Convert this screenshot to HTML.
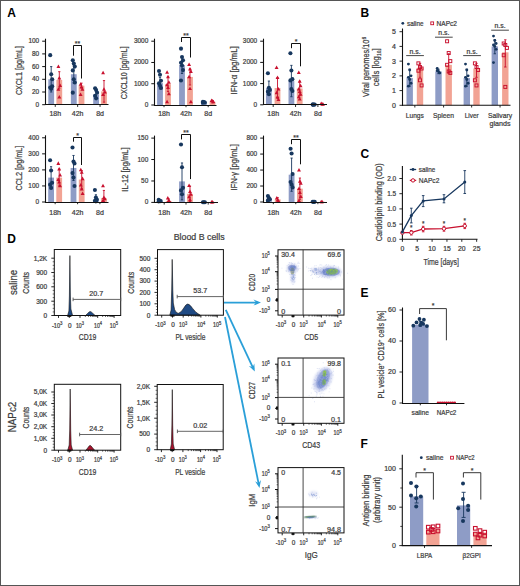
<!DOCTYPE html>
<html><head><meta charset="utf-8"><style>
html,body{margin:0;padding:0;background:#fff;}
svg{display:block;font-family:"Liberation Sans", sans-serif;}
</style></head><body>
<svg width="520" height="586" viewBox="0 0 520 586">
<defs>
<filter id="b1" x="-50%" y="-50%" width="200%" height="200%"><feGaussianBlur stdDeviation="0.6"/></filter>
<filter id="b2" x="-50%" y="-50%" width="200%" height="200%"><feGaussianBlur stdDeviation="1.2"/></filter>
<filter id="b3" x="-50%" y="-50%" width="200%" height="200%"><feGaussianBlur stdDeviation="2"/></filter>
</defs>
<rect width="520" height="586" fill="#fff"/>
<rect x="48.30" y="79.30" width="5.80" height="25.40" fill="#8e9cc6" />
<rect x="56.40" y="79.94" width="5.80" height="24.77" fill="#f2a394" />
<rect x="70.90" y="74.22" width="5.80" height="30.48" fill="#8e9cc6" />
<rect x="78.60" y="85.65" width="5.80" height="19.05" fill="#f2a394" />
<rect x="93.20" y="94.54" width="5.80" height="10.16" fill="#8e9cc6" />
<rect x="101.10" y="91.37" width="5.80" height="13.33" fill="#f2a394" />
<line x1="51.20" y1="92.00" x2="51.20" y2="66.60" stroke="#17375e" stroke-width="0.9" />
<line x1="50.10" y1="66.60" x2="52.30" y2="66.60" stroke="#17375e" stroke-width="0.9" />
<line x1="50.10" y1="92.00" x2="52.30" y2="92.00" stroke="#17375e" stroke-width="0.9" />
<line x1="59.30" y1="88.19" x2="59.30" y2="71.68" stroke="#c8102e" stroke-width="0.9" />
<line x1="58.20" y1="71.68" x2="60.40" y2="71.68" stroke="#c8102e" stroke-width="0.9" />
<line x1="58.20" y1="88.19" x2="60.40" y2="88.19" stroke="#c8102e" stroke-width="0.9" />
<circle cx="50.20" cy="55.17" r="2.05" fill="#17375e"/>
<circle cx="51.20" cy="74.22" r="2.05" fill="#17375e"/>
<circle cx="52.20" cy="86.28" r="2.05" fill="#17375e"/>
<circle cx="50.20" cy="87.56" r="2.05" fill="#17375e"/>
<circle cx="51.20" cy="88.83" r="2.05" fill="#17375e"/>
<circle cx="52.20" cy="79.30" r="2.05" fill="#17375e"/>
<path d="M58.40 64.49L60.35 68.00L56.45 68.00Z" fill="#c8102e"/>
<path d="M59.30 75.92L61.25 79.43L57.35 79.43Z" fill="#c8102e"/>
<path d="M60.20 83.54L62.15 87.05L58.25 87.05Z" fill="#c8102e"/>
<path d="M58.40 87.35L60.35 90.86L56.45 90.86Z" fill="#c8102e"/>
<path d="M59.30 94.97L61.25 98.48L57.35 98.48Z" fill="#c8102e"/>
<line x1="73.80" y1="83.11" x2="73.80" y2="65.33" stroke="#17375e" stroke-width="0.9" />
<line x1="72.70" y1="65.33" x2="74.90" y2="65.33" stroke="#17375e" stroke-width="0.9" />
<line x1="72.70" y1="83.11" x2="74.90" y2="83.11" stroke="#17375e" stroke-width="0.9" />
<line x1="81.50" y1="88.19" x2="81.50" y2="83.11" stroke="#c8102e" stroke-width="0.9" />
<line x1="80.40" y1="83.11" x2="82.60" y2="83.11" stroke="#c8102e" stroke-width="0.9" />
<line x1="80.40" y1="88.19" x2="82.60" y2="88.19" stroke="#c8102e" stroke-width="0.9" />
<circle cx="72.80" cy="60.25" r="2.05" fill="#17375e"/>
<circle cx="73.80" cy="63.43" r="2.05" fill="#17375e"/>
<circle cx="74.80" cy="66.60" r="2.05" fill="#17375e"/>
<circle cx="72.80" cy="70.41" r="2.05" fill="#17375e"/>
<circle cx="73.80" cy="79.30" r="2.05" fill="#17375e"/>
<circle cx="74.80" cy="82.47" r="2.05" fill="#17375e"/>
<circle cx="72.80" cy="92.64" r="2.05" fill="#17375e"/>
<path d="M80.60 82.27L82.55 85.78L78.65 85.78Z" fill="#c8102e"/>
<path d="M81.50 84.81L83.45 88.32L79.55 88.32Z" fill="#c8102e"/>
<path d="M82.40 87.35L84.35 90.86L80.45 90.86Z" fill="#c8102e"/>
<path d="M80.60 92.43L82.55 95.94L78.65 95.94Z" fill="#c8102e"/>
<line x1="96.10" y1="98.35" x2="96.10" y2="90.73" stroke="#17375e" stroke-width="0.9" />
<line x1="95.00" y1="90.73" x2="97.20" y2="90.73" stroke="#17375e" stroke-width="0.9" />
<line x1="95.00" y1="98.35" x2="97.20" y2="98.35" stroke="#17375e" stroke-width="0.9" />
<line x1="104.00" y1="102.16" x2="104.00" y2="80.57" stroke="#c8102e" stroke-width="0.9" />
<line x1="102.90" y1="80.57" x2="105.10" y2="80.57" stroke="#c8102e" stroke-width="0.9" />
<line x1="102.90" y1="102.16" x2="105.10" y2="102.16" stroke="#c8102e" stroke-width="0.9" />
<circle cx="95.10" cy="88.19" r="2.05" fill="#17375e"/>
<circle cx="96.10" cy="90.09" r="2.05" fill="#17375e"/>
<circle cx="97.10" cy="92.64" r="2.05" fill="#17375e"/>
<circle cx="95.10" cy="95.81" r="2.05" fill="#17375e"/>
<circle cx="96.10" cy="98.35" r="2.05" fill="#17375e"/>
<path d="M103.10 70.84L105.05 74.35L101.15 74.35Z" fill="#c8102e"/>
<path d="M104.00 87.35L105.95 90.86L102.05 90.86Z" fill="#c8102e"/>
<path d="M104.90 89.89L106.85 93.40L102.95 93.40Z" fill="#c8102e"/>
<path d="M103.10 92.43L105.05 95.94L101.15 95.94Z" fill="#c8102e"/>
<line x1="45.50" y1="38.70" x2="45.50" y2="105.00" stroke="#111" stroke-width="1.1" />
<line x1="45.00" y1="104.50" x2="108.50" y2="104.50" stroke="#111" stroke-width="1.1" />
<line x1="42.20" y1="104.70" x2="45.40" y2="104.70" stroke="#111" stroke-width="1.0" />
<text x="39.20" y="106.70" font-size="7.0" text-anchor="end" fill="#3c3c3c" stroke="#3c3c3c" stroke-width="0.22" textLength="3.6" lengthAdjust="spacingAndGlyphs">0</text>
<line x1="42.20" y1="92.00" x2="45.40" y2="92.00" stroke="#111" stroke-width="1.0" />
<text x="39.20" y="94.00" font-size="7.0" text-anchor="end" fill="#3c3c3c" stroke="#3c3c3c" stroke-width="0.22" textLength="7.2" lengthAdjust="spacingAndGlyphs">20</text>
<line x1="42.20" y1="79.30" x2="45.40" y2="79.30" stroke="#111" stroke-width="1.0" />
<text x="39.20" y="81.30" font-size="7.0" text-anchor="end" fill="#3c3c3c" stroke="#3c3c3c" stroke-width="0.22" textLength="7.2" lengthAdjust="spacingAndGlyphs">40</text>
<line x1="42.20" y1="66.60" x2="45.40" y2="66.60" stroke="#111" stroke-width="1.0" />
<text x="39.20" y="68.60" font-size="7.0" text-anchor="end" fill="#3c3c3c" stroke="#3c3c3c" stroke-width="0.22" textLength="7.2" lengthAdjust="spacingAndGlyphs">60</text>
<line x1="42.20" y1="53.90" x2="45.40" y2="53.90" stroke="#111" stroke-width="1.0" />
<text x="39.20" y="55.90" font-size="7.0" text-anchor="end" fill="#3c3c3c" stroke="#3c3c3c" stroke-width="0.22" textLength="7.2" lengthAdjust="spacingAndGlyphs">80</text>
<line x1="42.20" y1="41.20" x2="45.40" y2="41.20" stroke="#111" stroke-width="1.0" />
<text x="39.20" y="43.20" font-size="7.0" text-anchor="end" fill="#3c3c3c" stroke="#3c3c3c" stroke-width="0.22" textLength="10.8" lengthAdjust="spacingAndGlyphs">100</text>
<line x1="55.25" y1="104.70" x2="55.25" y2="106.90" stroke="#111" stroke-width="0.9" />
<text x="55.25" y="116.20" font-size="7.2" text-anchor="middle" fill="#3c3c3c" stroke="#3c3c3c" stroke-width="0.22" textLength="11.7" lengthAdjust="spacingAndGlyphs">18h</text>
<line x1="77.65" y1="104.70" x2="77.65" y2="106.90" stroke="#111" stroke-width="0.9" />
<text x="77.65" y="116.20" font-size="7.2" text-anchor="middle" fill="#3c3c3c" stroke="#3c3c3c" stroke-width="0.22" textLength="11.7" lengthAdjust="spacingAndGlyphs">42h</text>
<line x1="100.05" y1="104.70" x2="100.05" y2="106.90" stroke="#111" stroke-width="0.9" />
<text x="100.05" y="116.20" font-size="7.2" text-anchor="middle" fill="#3c3c3c" stroke="#3c3c3c" stroke-width="0.22" textLength="7.8" lengthAdjust="spacingAndGlyphs">8d</text>
<path d="M73.50 55.70V45.50H81.50V78.50" fill="none" stroke="#111" stroke-width="1.0"/>
<text x="77.50" y="46.10" font-size="7.0" text-anchor="middle" fill="#3c3c3c" stroke="#3c3c3c" stroke-width="0.22">**</text>
<text x="22.00" y="70.60" font-size="8.4" text-anchor="middle" fill="#3c3c3c" stroke="#3c3c3c" stroke-width="0.22" textLength="49" lengthAdjust="spacingAndGlyphs" transform="rotate(-90 22.00 70.60)">CXCL1 [pg/mL]</text>
<rect x="157.10" y="83.10" width="5.80" height="21.90" fill="#8e9cc6" />
<rect x="165.10" y="84.16" width="5.80" height="20.84" fill="#f2a394" />
<rect x="179.10" y="65.02" width="5.80" height="39.98" fill="#8e9cc6" />
<rect x="187.10" y="76.93" width="5.80" height="28.07" fill="#f2a394" />
<rect x="201.00" y="102.45" width="5.80" height="2.55" fill="#8e9cc6" />
<rect x="209.60" y="101.81" width="5.80" height="3.19" fill="#f2a394" />
<line x1="160.00" y1="88.84" x2="160.00" y2="77.35" stroke="#17375e" stroke-width="0.9" />
<line x1="158.90" y1="77.35" x2="161.10" y2="77.35" stroke="#17375e" stroke-width="0.9" />
<line x1="158.90" y1="88.84" x2="161.10" y2="88.84" stroke="#17375e" stroke-width="0.9" />
<line x1="168.00" y1="91.60" x2="168.00" y2="76.72" stroke="#c8102e" stroke-width="0.9" />
<line x1="166.90" y1="76.72" x2="169.10" y2="76.72" stroke="#c8102e" stroke-width="0.9" />
<line x1="166.90" y1="91.60" x2="169.10" y2="91.60" stroke="#c8102e" stroke-width="0.9" />
<circle cx="159.00" cy="70.97" r="2.05" fill="#17375e"/>
<circle cx="160.00" cy="74.80" r="2.05" fill="#17375e"/>
<circle cx="161.00" cy="80.76" r="2.05" fill="#17375e"/>
<circle cx="159.00" cy="83.31" r="2.05" fill="#17375e"/>
<circle cx="160.00" cy="85.86" r="2.05" fill="#17375e"/>
<circle cx="161.00" cy="87.99" r="2.05" fill="#17375e"/>
<path d="M167.10 70.36L169.05 73.87L165.15 73.87Z" fill="#c8102e"/>
<path d="M168.00 74.82L169.95 78.33L166.05 78.33Z" fill="#c8102e"/>
<path d="M168.90 80.14L170.85 83.65L166.95 83.65Z" fill="#c8102e"/>
<path d="M167.10 82.69L169.05 86.20L165.15 86.20Z" fill="#c8102e"/>
<path d="M168.00 85.46L169.95 88.97L166.05 88.97Z" fill="#c8102e"/>
<path d="M168.90 91.84L170.85 95.35L166.95 95.35Z" fill="#c8102e"/>
<path d="M167.10 99.70L169.05 103.21L165.15 103.21Z" fill="#c8102e"/>
<line x1="182.00" y1="73.53" x2="182.00" y2="56.51" stroke="#17375e" stroke-width="0.9" />
<line x1="180.90" y1="56.51" x2="183.10" y2="56.51" stroke="#17375e" stroke-width="0.9" />
<line x1="180.90" y1="73.53" x2="183.10" y2="73.53" stroke="#17375e" stroke-width="0.9" />
<line x1="190.00" y1="85.01" x2="190.00" y2="68.85" stroke="#c8102e" stroke-width="0.9" />
<line x1="188.90" y1="68.85" x2="191.10" y2="68.85" stroke="#c8102e" stroke-width="0.9" />
<line x1="188.90" y1="85.01" x2="191.10" y2="85.01" stroke="#c8102e" stroke-width="0.9" />
<circle cx="181.00" cy="48.64" r="2.05" fill="#17375e"/>
<circle cx="182.00" cy="56.94" r="2.05" fill="#17375e"/>
<circle cx="183.00" cy="60.34" r="2.05" fill="#17375e"/>
<circle cx="181.00" cy="62.68" r="2.05" fill="#17375e"/>
<circle cx="182.00" cy="65.44" r="2.05" fill="#17375e"/>
<circle cx="183.00" cy="70.12" r="2.05" fill="#17375e"/>
<circle cx="181.00" cy="80.54" r="2.05" fill="#17375e"/>
<path d="M189.10 62.49L191.05 66.00L187.15 66.00Z" fill="#c8102e"/>
<path d="M190.00 66.95L191.95 70.46L188.05 70.46Z" fill="#c8102e"/>
<path d="M190.90 69.51L192.85 73.02L188.95 73.02Z" fill="#c8102e"/>
<path d="M189.10 74.82L191.05 78.33L187.15 78.33Z" fill="#c8102e"/>
<path d="M190.00 86.52L191.95 90.03L188.05 90.03Z" fill="#c8102e"/>
<path d="M190.90 99.70L192.85 103.21L188.95 103.21Z" fill="#c8102e"/>
<line x1="203.90" y1="103.30" x2="203.90" y2="101.60" stroke="#17375e" stroke-width="0.9" />
<line x1="202.80" y1="101.60" x2="205.00" y2="101.60" stroke="#17375e" stroke-width="0.9" />
<line x1="202.80" y1="103.30" x2="205.00" y2="103.30" stroke="#17375e" stroke-width="0.9" />
<line x1="212.50" y1="102.87" x2="212.50" y2="100.75" stroke="#c8102e" stroke-width="0.9" />
<line x1="211.40" y1="100.75" x2="213.60" y2="100.75" stroke="#c8102e" stroke-width="0.9" />
<line x1="211.40" y1="102.87" x2="213.60" y2="102.87" stroke="#c8102e" stroke-width="0.9" />
<circle cx="202.90" cy="101.81" r="2.05" fill="#17375e"/>
<circle cx="203.90" cy="102.02" r="2.05" fill="#17375e"/>
<circle cx="204.90" cy="102.45" r="2.05" fill="#17375e"/>
<circle cx="202.90" cy="102.66" r="2.05" fill="#17375e"/>
<path d="M211.60 98.43L213.55 101.94L209.65 101.94Z" fill="#c8102e"/>
<path d="M212.50 99.07L214.45 102.58L210.55 102.58Z" fill="#c8102e"/>
<path d="M213.40 99.70L215.35 103.21L211.45 103.21Z" fill="#c8102e"/>
<line x1="154.50" y1="38.70" x2="154.50" y2="106.00" stroke="#111" stroke-width="1.1" />
<line x1="154.00" y1="105.50" x2="216.50" y2="105.50" stroke="#111" stroke-width="1.1" />
<line x1="151.30" y1="105.00" x2="154.50" y2="105.00" stroke="#111" stroke-width="1.0" />
<text x="148.30" y="107.00" font-size="7.0" text-anchor="end" fill="#3c3c3c" stroke="#3c3c3c" stroke-width="0.22" textLength="3.6" lengthAdjust="spacingAndGlyphs">0</text>
<line x1="151.30" y1="83.73" x2="154.50" y2="83.73" stroke="#111" stroke-width="1.0" />
<text x="148.30" y="85.73" font-size="7.0" text-anchor="end" fill="#3c3c3c" stroke="#3c3c3c" stroke-width="0.22" textLength="14.4" lengthAdjust="spacingAndGlyphs">1000</text>
<line x1="151.30" y1="62.47" x2="154.50" y2="62.47" stroke="#111" stroke-width="1.0" />
<text x="148.30" y="64.47" font-size="7.0" text-anchor="end" fill="#3c3c3c" stroke="#3c3c3c" stroke-width="0.22" textLength="14.4" lengthAdjust="spacingAndGlyphs">2000</text>
<line x1="151.30" y1="41.20" x2="154.50" y2="41.20" stroke="#111" stroke-width="1.0" />
<text x="148.30" y="43.20" font-size="7.0" text-anchor="end" fill="#3c3c3c" stroke="#3c3c3c" stroke-width="0.22" textLength="14.4" lengthAdjust="spacingAndGlyphs">3000</text>
<line x1="164.00" y1="105.00" x2="164.00" y2="107.20" stroke="#111" stroke-width="0.9" />
<text x="164.00" y="116.20" font-size="7.2" text-anchor="middle" fill="#3c3c3c" stroke="#3c3c3c" stroke-width="0.22" textLength="11.7" lengthAdjust="spacingAndGlyphs">18h</text>
<line x1="186.00" y1="105.00" x2="186.00" y2="107.20" stroke="#111" stroke-width="0.9" />
<text x="186.00" y="116.20" font-size="7.2" text-anchor="middle" fill="#3c3c3c" stroke="#3c3c3c" stroke-width="0.22" textLength="11.7" lengthAdjust="spacingAndGlyphs">42h</text>
<line x1="208.20" y1="105.00" x2="208.20" y2="107.20" stroke="#111" stroke-width="0.9" />
<text x="208.20" y="116.20" font-size="7.2" text-anchor="middle" fill="#3c3c3c" stroke="#3c3c3c" stroke-width="0.22" textLength="7.8" lengthAdjust="spacingAndGlyphs">8d</text>
<path d="M181.50 42.00V37.50H190.50V57.50" fill="none" stroke="#111" stroke-width="1.0"/>
<text x="186.00" y="38.10" font-size="7.0" text-anchor="middle" fill="#3c3c3c" stroke="#3c3c3c" stroke-width="0.22">**</text>
<text x="127.00" y="72.80" font-size="8.4" text-anchor="middle" fill="#3c3c3c" stroke="#3c3c3c" stroke-width="0.22" textLength="53" lengthAdjust="spacingAndGlyphs" transform="rotate(-90 127.00 72.80)">CXCL10 [pg/mL]</text>
<rect x="266.00" y="87.84" width="5.80" height="16.96" fill="#8e9cc6" />
<rect x="274.60" y="88.05" width="5.80" height="16.75" fill="#f2a394" />
<rect x="288.50" y="81.06" width="5.80" height="23.74" fill="#8e9cc6" />
<rect x="296.80" y="88.48" width="5.80" height="16.32" fill="#f2a394" />
<rect x="310.80" y="104.38" width="5.80" height="0.42" fill="#8e9cc6" />
<rect x="319.20" y="104.16" width="5.80" height="0.64" fill="#f2a394" />
<line x1="268.90" y1="94.62" x2="268.90" y2="81.06" stroke="#17375e" stroke-width="0.9" />
<line x1="267.80" y1="81.06" x2="270.00" y2="81.06" stroke="#17375e" stroke-width="0.9" />
<line x1="267.80" y1="94.62" x2="270.00" y2="94.62" stroke="#17375e" stroke-width="0.9" />
<line x1="277.50" y1="98.44" x2="277.50" y2="77.66" stroke="#c8102e" stroke-width="0.9" />
<line x1="276.40" y1="77.66" x2="278.60" y2="77.66" stroke="#c8102e" stroke-width="0.9" />
<line x1="276.40" y1="98.44" x2="278.60" y2="98.44" stroke="#c8102e" stroke-width="0.9" />
<circle cx="267.90" cy="73.21" r="2.05" fill="#17375e"/>
<circle cx="268.90" cy="87.84" r="2.05" fill="#17375e"/>
<circle cx="269.90" cy="89.96" r="2.05" fill="#17375e"/>
<circle cx="267.90" cy="91.66" r="2.05" fill="#17375e"/>
<circle cx="268.90" cy="94.20" r="2.05" fill="#17375e"/>
<path d="M276.60 65.59L278.55 69.10L274.65 69.10Z" fill="#c8102e"/>
<path d="M277.50 75.56L279.45 79.07L275.55 79.07Z" fill="#c8102e"/>
<path d="M278.40 87.01L280.35 90.52L276.45 90.52Z" fill="#c8102e"/>
<path d="M276.60 90.82L278.55 94.33L274.65 94.33Z" fill="#c8102e"/>
<path d="M277.50 94.85L279.45 98.36L275.55 98.36Z" fill="#c8102e"/>
<path d="M278.40 97.39L280.35 100.90L276.45 100.90Z" fill="#c8102e"/>
<line x1="291.40" y1="96.74" x2="291.40" y2="65.37" stroke="#17375e" stroke-width="0.9" />
<line x1="290.30" y1="65.37" x2="292.50" y2="65.37" stroke="#17375e" stroke-width="0.9" />
<line x1="290.30" y1="96.74" x2="292.50" y2="96.74" stroke="#17375e" stroke-width="0.9" />
<line x1="299.70" y1="95.68" x2="299.70" y2="81.27" stroke="#c8102e" stroke-width="0.9" />
<line x1="298.60" y1="81.27" x2="300.80" y2="81.27" stroke="#c8102e" stroke-width="0.9" />
<line x1="298.60" y1="95.68" x2="300.80" y2="95.68" stroke="#c8102e" stroke-width="0.9" />
<circle cx="290.40" cy="53.28" r="2.05" fill="#17375e"/>
<circle cx="291.40" cy="70.46" r="2.05" fill="#17375e"/>
<circle cx="292.40" cy="79.15" r="2.05" fill="#17375e"/>
<circle cx="290.40" cy="80.42" r="2.05" fill="#17375e"/>
<circle cx="291.40" cy="89.11" r="2.05" fill="#17375e"/>
<circle cx="292.40" cy="91.02" r="2.05" fill="#17375e"/>
<path d="M298.80 70.47L300.75 73.98L296.85 73.98Z" fill="#c8102e"/>
<path d="M299.70 79.16L301.65 82.67L297.75 82.67Z" fill="#c8102e"/>
<path d="M300.60 83.83L302.55 87.34L298.65 87.34Z" fill="#c8102e"/>
<path d="M298.80 87.01L300.75 90.52L296.85 90.52Z" fill="#c8102e"/>
<path d="M299.70 89.55L301.65 93.06L297.75 93.06Z" fill="#c8102e"/>
<path d="M300.60 92.31L302.55 95.82L298.65 95.82Z" fill="#c8102e"/>
<path d="M298.80 94.85L300.75 98.36L296.85 98.36Z" fill="#c8102e"/>
<path d="M299.70 96.97L301.65 100.48L297.75 100.48Z" fill="#c8102e"/>
<line x1="313.70" y1="104.59" x2="313.70" y2="104.16" stroke="#17375e" stroke-width="0.9" />
<line x1="312.60" y1="104.16" x2="314.80" y2="104.16" stroke="#17375e" stroke-width="0.9" />
<line x1="312.60" y1="104.59" x2="314.80" y2="104.59" stroke="#17375e" stroke-width="0.9" />
<line x1="322.10" y1="104.80" x2="322.10" y2="103.53" stroke="#c8102e" stroke-width="0.9" />
<line x1="321.00" y1="103.53" x2="323.20" y2="103.53" stroke="#c8102e" stroke-width="0.9" />
<line x1="321.00" y1="104.80" x2="323.20" y2="104.80" stroke="#c8102e" stroke-width="0.9" />
<circle cx="312.70" cy="104.59" r="2.05" fill="#17375e"/>
<circle cx="313.70" cy="104.59" r="2.05" fill="#17375e"/>
<circle cx="314.70" cy="104.59" r="2.05" fill="#17375e"/>
<circle cx="312.70" cy="104.59" r="2.05" fill="#17375e"/>
<path d="M321.20 101.42L323.15 104.93L319.25 104.93Z" fill="#c8102e"/>
<path d="M322.10 102.06L324.05 105.57L320.15 105.57Z" fill="#c8102e"/>
<path d="M323.00 102.27L324.95 105.78L321.05 105.78Z" fill="#c8102e"/>
<line x1="263.50" y1="38.70" x2="263.50" y2="105.00" stroke="#111" stroke-width="1.1" />
<line x1="263.00" y1="104.50" x2="327.00" y2="104.50" stroke="#111" stroke-width="1.1" />
<line x1="260.20" y1="104.80" x2="263.40" y2="104.80" stroke="#111" stroke-width="1.0" />
<text x="257.20" y="106.80" font-size="7.0" text-anchor="end" fill="#3c3c3c" stroke="#3c3c3c" stroke-width="0.22" textLength="3.6" lengthAdjust="spacingAndGlyphs">0</text>
<line x1="260.20" y1="83.60" x2="263.40" y2="83.60" stroke="#111" stroke-width="1.0" />
<text x="257.20" y="85.60" font-size="7.0" text-anchor="end" fill="#3c3c3c" stroke="#3c3c3c" stroke-width="0.22" textLength="14.4" lengthAdjust="spacingAndGlyphs">1000</text>
<line x1="260.20" y1="62.40" x2="263.40" y2="62.40" stroke="#111" stroke-width="1.0" />
<text x="257.20" y="64.40" font-size="7.0" text-anchor="end" fill="#3c3c3c" stroke="#3c3c3c" stroke-width="0.22" textLength="14.4" lengthAdjust="spacingAndGlyphs">2000</text>
<line x1="260.20" y1="41.20" x2="263.40" y2="41.20" stroke="#111" stroke-width="1.0" />
<text x="257.20" y="43.20" font-size="7.0" text-anchor="end" fill="#3c3c3c" stroke="#3c3c3c" stroke-width="0.22" textLength="14.4" lengthAdjust="spacingAndGlyphs">3000</text>
<line x1="273.20" y1="104.80" x2="273.20" y2="107.00" stroke="#111" stroke-width="0.9" />
<text x="273.20" y="116.20" font-size="7.2" text-anchor="middle" fill="#3c3c3c" stroke="#3c3c3c" stroke-width="0.22" textLength="11.7" lengthAdjust="spacingAndGlyphs">18h</text>
<line x1="295.55" y1="104.80" x2="295.55" y2="107.00" stroke="#111" stroke-width="0.9" />
<text x="295.55" y="116.20" font-size="7.2" text-anchor="middle" fill="#3c3c3c" stroke="#3c3c3c" stroke-width="0.22" textLength="11.7" lengthAdjust="spacingAndGlyphs">42h</text>
<line x1="317.90" y1="104.80" x2="317.90" y2="107.00" stroke="#111" stroke-width="0.9" />
<text x="317.90" y="116.20" font-size="7.2" text-anchor="middle" fill="#3c3c3c" stroke="#3c3c3c" stroke-width="0.22" textLength="7.8" lengthAdjust="spacingAndGlyphs">8d</text>
<path d="M291.50 48.20V43.50H300.50V66.30" fill="none" stroke="#111" stroke-width="1.0"/>
<text x="296.00" y="44.10" font-size="7.0" text-anchor="middle" fill="#3c3c3c" stroke="#3c3c3c" stroke-width="0.22">*</text>
<text x="237.00" y="70.40" font-size="8.4" text-anchor="middle" fill="#3c3c3c" stroke="#3c3c3c" stroke-width="0.22" textLength="48.3" lengthAdjust="spacingAndGlyphs" transform="rotate(-90 237.00 70.40)">IFN-α [pg/mL]</text>
<rect x="48.20" y="177.60" width="5.80" height="24.40" fill="#8e9cc6" />
<rect x="56.30" y="177.60" width="5.80" height="24.40" fill="#f2a394" />
<rect x="70.60" y="167.97" width="5.80" height="34.03" fill="#8e9cc6" />
<rect x="78.80" y="179.53" width="5.80" height="22.47" fill="#f2a394" />
<rect x="93.00" y="200.07" width="5.80" height="1.93" fill="#8e9cc6" />
<rect x="101.00" y="198.15" width="5.80" height="3.85" fill="#f2a394" />
<line x1="51.10" y1="188.52" x2="51.10" y2="166.69" stroke="#17375e" stroke-width="0.9" />
<line x1="50.00" y1="166.69" x2="52.20" y2="166.69" stroke="#17375e" stroke-width="0.9" />
<line x1="50.00" y1="188.52" x2="52.20" y2="188.52" stroke="#17375e" stroke-width="0.9" />
<line x1="59.20" y1="186.11" x2="59.20" y2="169.10" stroke="#c8102e" stroke-width="0.9" />
<line x1="58.10" y1="169.10" x2="60.30" y2="169.10" stroke="#c8102e" stroke-width="0.9" />
<line x1="58.10" y1="186.11" x2="60.30" y2="186.11" stroke="#c8102e" stroke-width="0.9" />
<circle cx="50.10" cy="160.27" r="2.05" fill="#17375e"/>
<circle cx="51.10" cy="170.54" r="2.05" fill="#17375e"/>
<circle cx="52.10" cy="182.74" r="2.05" fill="#17375e"/>
<circle cx="50.10" cy="184.67" r="2.05" fill="#17375e"/>
<circle cx="51.10" cy="187.88" r="2.05" fill="#17375e"/>
<path d="M58.30 161.37L60.25 164.88L56.35 164.88Z" fill="#c8102e"/>
<path d="M59.20 166.99L61.15 170.50L57.25 170.50Z" fill="#c8102e"/>
<path d="M60.10 172.93L62.05 176.44L58.15 176.44Z" fill="#c8102e"/>
<path d="M58.30 177.42L60.25 180.93L56.35 180.93Z" fill="#c8102e"/>
<path d="M59.20 179.99L61.15 183.50L57.25 183.50Z" fill="#c8102e"/>
<path d="M60.10 183.84L62.05 187.35L58.15 187.35Z" fill="#c8102e"/>
<line x1="73.50" y1="180.49" x2="73.50" y2="155.46" stroke="#17375e" stroke-width="0.9" />
<line x1="72.40" y1="155.46" x2="74.60" y2="155.46" stroke="#17375e" stroke-width="0.9" />
<line x1="72.40" y1="180.49" x2="74.60" y2="180.49" stroke="#17375e" stroke-width="0.9" />
<line x1="81.70" y1="188.36" x2="81.70" y2="170.70" stroke="#c8102e" stroke-width="0.9" />
<line x1="80.60" y1="170.70" x2="82.80" y2="170.70" stroke="#c8102e" stroke-width="0.9" />
<line x1="80.60" y1="188.36" x2="82.80" y2="188.36" stroke="#c8102e" stroke-width="0.9" />
<circle cx="72.50" cy="147.43" r="2.05" fill="#17375e"/>
<circle cx="73.50" cy="161.55" r="2.05" fill="#17375e"/>
<circle cx="74.50" cy="163.48" r="2.05" fill="#17375e"/>
<circle cx="72.50" cy="173.11" r="2.05" fill="#17375e"/>
<circle cx="73.50" cy="177.60" r="2.05" fill="#17375e"/>
<circle cx="74.50" cy="185.95" r="2.05" fill="#17375e"/>
<path d="M80.80 167.79L82.75 171.30L78.85 171.30Z" fill="#c8102e"/>
<path d="M81.70 170.20L83.65 173.71L79.75 173.71Z" fill="#c8102e"/>
<path d="M82.60 176.62L84.55 180.13L80.65 180.13Z" fill="#c8102e"/>
<path d="M80.80 183.04L82.75 186.55L78.85 186.55Z" fill="#c8102e"/>
<path d="M81.70 187.05L83.65 190.56L79.75 190.56Z" fill="#c8102e"/>
<path d="M82.60 191.55L84.55 195.06L80.65 195.06Z" fill="#c8102e"/>
<line x1="95.90" y1="202.00" x2="95.90" y2="194.78" stroke="#17375e" stroke-width="0.9" />
<line x1="94.80" y1="194.78" x2="97.00" y2="194.78" stroke="#17375e" stroke-width="0.9" />
<line x1="94.80" y1="202.00" x2="97.00" y2="202.00" stroke="#17375e" stroke-width="0.9" />
<line x1="103.90" y1="202.00" x2="103.90" y2="190.44" stroke="#c8102e" stroke-width="0.9" />
<line x1="102.80" y1="190.44" x2="105.00" y2="190.44" stroke="#c8102e" stroke-width="0.9" />
<line x1="102.80" y1="202.00" x2="105.00" y2="202.00" stroke="#c8102e" stroke-width="0.9" />
<circle cx="94.90" cy="189.96" r="2.05" fill="#17375e"/>
<circle cx="95.90" cy="197.51" r="2.05" fill="#17375e"/>
<circle cx="96.90" cy="199.43" r="2.05" fill="#17375e"/>
<circle cx="94.90" cy="200.72" r="2.05" fill="#17375e"/>
<circle cx="95.90" cy="201.36" r="2.05" fill="#17375e"/>
<path d="M103.00 183.84L104.95 187.35L101.05 187.35Z" fill="#c8102e"/>
<path d="M103.90 195.40L105.85 198.91L101.95 198.91Z" fill="#c8102e"/>
<path d="M104.80 196.68L106.75 200.19L102.85 200.19Z" fill="#c8102e"/>
<path d="M103.00 198.61L104.95 202.12L101.05 202.12Z" fill="#c8102e"/>
<line x1="45.50" y1="135.30" x2="45.50" y2="203.00" stroke="#111" stroke-width="1.1" />
<line x1="45.00" y1="202.50" x2="108.50" y2="202.50" stroke="#111" stroke-width="1.1" />
<line x1="42.10" y1="202.00" x2="45.30" y2="202.00" stroke="#111" stroke-width="1.0" />
<text x="39.10" y="204.00" font-size="7.0" text-anchor="end" fill="#3c3c3c" stroke="#3c3c3c" stroke-width="0.22" textLength="3.6" lengthAdjust="spacingAndGlyphs">0</text>
<line x1="42.10" y1="185.95" x2="45.30" y2="185.95" stroke="#111" stroke-width="1.0" />
<text x="39.10" y="187.95" font-size="7.0" text-anchor="end" fill="#3c3c3c" stroke="#3c3c3c" stroke-width="0.22" textLength="10.8" lengthAdjust="spacingAndGlyphs">100</text>
<line x1="42.10" y1="169.90" x2="45.30" y2="169.90" stroke="#111" stroke-width="1.0" />
<text x="39.10" y="171.90" font-size="7.0" text-anchor="end" fill="#3c3c3c" stroke="#3c3c3c" stroke-width="0.22" textLength="10.8" lengthAdjust="spacingAndGlyphs">200</text>
<line x1="42.10" y1="153.85" x2="45.30" y2="153.85" stroke="#111" stroke-width="1.0" />
<text x="39.10" y="155.85" font-size="7.0" text-anchor="end" fill="#3c3c3c" stroke="#3c3c3c" stroke-width="0.22" textLength="10.8" lengthAdjust="spacingAndGlyphs">300</text>
<line x1="42.10" y1="137.80" x2="45.30" y2="137.80" stroke="#111" stroke-width="1.0" />
<text x="39.10" y="139.80" font-size="7.0" text-anchor="end" fill="#3c3c3c" stroke="#3c3c3c" stroke-width="0.22" textLength="10.8" lengthAdjust="spacingAndGlyphs">400</text>
<line x1="55.15" y1="202.00" x2="55.15" y2="204.20" stroke="#111" stroke-width="0.9" />
<text x="55.15" y="214.60" font-size="7.2" text-anchor="middle" fill="#3c3c3c" stroke="#3c3c3c" stroke-width="0.22" textLength="11.7" lengthAdjust="spacingAndGlyphs">18h</text>
<line x1="77.60" y1="202.00" x2="77.60" y2="204.20" stroke="#111" stroke-width="0.9" />
<text x="77.60" y="214.60" font-size="7.2" text-anchor="middle" fill="#3c3c3c" stroke="#3c3c3c" stroke-width="0.22" textLength="11.7" lengthAdjust="spacingAndGlyphs">42h</text>
<line x1="99.90" y1="202.00" x2="99.90" y2="204.20" stroke="#111" stroke-width="0.9" />
<text x="99.90" y="214.60" font-size="7.2" text-anchor="middle" fill="#3c3c3c" stroke="#3c3c3c" stroke-width="0.22" textLength="7.8" lengthAdjust="spacingAndGlyphs">8d</text>
<path d="M73.50 141.70V137.50H81.50V165.00" fill="none" stroke="#111" stroke-width="1.0"/>
<text x="77.50" y="138.10" font-size="7.0" text-anchor="middle" fill="#3c3c3c" stroke="#3c3c3c" stroke-width="0.22">*</text>
<text x="22.00" y="168.10" font-size="8.4" text-anchor="middle" fill="#3c3c3c" stroke="#3c3c3c" stroke-width="0.22" textLength="44.8" lengthAdjust="spacingAndGlyphs" transform="rotate(-90 22.00 168.10)">CCL2 [pg/mL]</text>
<rect x="156.80" y="201.11" width="5.80" height="1.29" fill="#8e9cc6" />
<rect x="165.80" y="201.11" width="5.80" height="1.29" fill="#f2a394" />
<rect x="179.10" y="181.40" width="5.80" height="21.00" fill="#8e9cc6" />
<rect x="187.10" y="193.83" width="5.80" height="8.57" fill="#f2a394" />
<rect x="201.00" y="202.19" width="5.80" height="0.21" fill="#8e9cc6" />
<rect x="209.60" y="202.19" width="5.80" height="0.21" fill="#f2a394" />
<line x1="159.70" y1="202.40" x2="159.70" y2="199.83" stroke="#17375e" stroke-width="0.9" />
<line x1="158.60" y1="199.83" x2="160.80" y2="199.83" stroke="#17375e" stroke-width="0.9" />
<line x1="158.60" y1="202.40" x2="160.80" y2="202.40" stroke="#17375e" stroke-width="0.9" />
<line x1="168.70" y1="202.40" x2="168.70" y2="198.97" stroke="#c8102e" stroke-width="0.9" />
<line x1="167.60" y1="198.97" x2="169.80" y2="198.97" stroke="#c8102e" stroke-width="0.9" />
<line x1="167.60" y1="202.40" x2="169.80" y2="202.40" stroke="#c8102e" stroke-width="0.9" />
<circle cx="158.70" cy="199.83" r="2.05" fill="#17375e"/>
<circle cx="159.70" cy="200.69" r="2.05" fill="#17375e"/>
<circle cx="160.70" cy="201.11" r="2.05" fill="#17375e"/>
<circle cx="158.70" cy="201.54" r="2.05" fill="#17375e"/>
<path d="M167.80 196.01L169.75 199.52L165.85 199.52Z" fill="#c8102e"/>
<path d="M168.70 198.58L170.65 202.09L166.75 202.09Z" fill="#c8102e"/>
<path d="M169.60 199.44L171.55 202.95L167.65 202.95Z" fill="#c8102e"/>
<line x1="182.00" y1="199.83" x2="182.00" y2="162.96" stroke="#17375e" stroke-width="0.9" />
<line x1="180.90" y1="162.96" x2="183.10" y2="162.96" stroke="#17375e" stroke-width="0.9" />
<line x1="180.90" y1="199.83" x2="183.10" y2="199.83" stroke="#17375e" stroke-width="0.9" />
<line x1="190.00" y1="201.54" x2="190.00" y2="186.11" stroke="#c8102e" stroke-width="0.9" />
<line x1="188.90" y1="186.11" x2="191.10" y2="186.11" stroke="#c8102e" stroke-width="0.9" />
<line x1="188.90" y1="201.54" x2="191.10" y2="201.54" stroke="#c8102e" stroke-width="0.9" />
<circle cx="181.00" cy="144.53" r="2.05" fill="#17375e"/>
<circle cx="182.00" cy="167.25" r="2.05" fill="#17375e"/>
<circle cx="183.00" cy="187.83" r="2.05" fill="#17375e"/>
<circle cx="181.00" cy="190.40" r="2.05" fill="#17375e"/>
<circle cx="182.00" cy="194.26" r="2.05" fill="#17375e"/>
<path d="M189.10 183.58L191.05 187.09L187.15 187.09Z" fill="#c8102e"/>
<path d="M190.00 189.58L191.95 193.09L188.05 193.09Z" fill="#c8102e"/>
<path d="M190.90 192.15L192.85 195.66L188.95 195.66Z" fill="#c8102e"/>
<path d="M189.10 194.72L191.05 198.23L187.15 198.23Z" fill="#c8102e"/>
<path d="M190.00 197.72L191.95 201.23L188.05 201.23Z" fill="#c8102e"/>
<line x1="203.90" y1="202.40" x2="203.90" y2="201.97" stroke="#17375e" stroke-width="0.9" />
<line x1="202.80" y1="201.97" x2="205.00" y2="201.97" stroke="#17375e" stroke-width="0.9" />
<line x1="202.80" y1="202.40" x2="205.00" y2="202.40" stroke="#17375e" stroke-width="0.9" />
<line x1="212.50" y1="202.40" x2="212.50" y2="201.97" stroke="#c8102e" stroke-width="0.9" />
<line x1="211.40" y1="201.97" x2="213.60" y2="201.97" stroke="#c8102e" stroke-width="0.9" />
<line x1="211.40" y1="202.40" x2="213.60" y2="202.40" stroke="#c8102e" stroke-width="0.9" />
<circle cx="202.90" cy="202.19" r="2.05" fill="#17375e"/>
<circle cx="203.90" cy="202.19" r="2.05" fill="#17375e"/>
<circle cx="204.90" cy="202.19" r="2.05" fill="#17375e"/>
<path d="M211.60 200.08L213.55 203.59L209.65 203.59Z" fill="#c8102e"/>
<path d="M212.50 200.08L214.45 203.59L210.55 203.59Z" fill="#c8102e"/>
<line x1="154.50" y1="135.60" x2="154.50" y2="203.00" stroke="#111" stroke-width="1.1" />
<line x1="154.00" y1="202.50" x2="218.00" y2="202.50" stroke="#111" stroke-width="1.1" />
<line x1="151.30" y1="202.40" x2="154.50" y2="202.40" stroke="#111" stroke-width="1.0" />
<text x="148.30" y="204.40" font-size="7.0" text-anchor="end" fill="#3c3c3c" stroke="#3c3c3c" stroke-width="0.22" textLength="3.6" lengthAdjust="spacingAndGlyphs">0</text>
<line x1="151.30" y1="180.97" x2="154.50" y2="180.97" stroke="#111" stroke-width="1.0" />
<text x="148.30" y="182.97" font-size="7.0" text-anchor="end" fill="#3c3c3c" stroke="#3c3c3c" stroke-width="0.22" textLength="7.2" lengthAdjust="spacingAndGlyphs">50</text>
<line x1="151.30" y1="159.53" x2="154.50" y2="159.53" stroke="#111" stroke-width="1.0" />
<text x="148.30" y="161.53" font-size="7.0" text-anchor="end" fill="#3c3c3c" stroke="#3c3c3c" stroke-width="0.22" textLength="10.8" lengthAdjust="spacingAndGlyphs">100</text>
<line x1="151.30" y1="138.10" x2="154.50" y2="138.10" stroke="#111" stroke-width="1.0" />
<text x="148.30" y="140.10" font-size="7.0" text-anchor="end" fill="#3c3c3c" stroke="#3c3c3c" stroke-width="0.22" textLength="10.8" lengthAdjust="spacingAndGlyphs">150</text>
<line x1="164.20" y1="202.40" x2="164.20" y2="204.60" stroke="#111" stroke-width="0.9" />
<text x="164.20" y="214.60" font-size="7.2" text-anchor="middle" fill="#3c3c3c" stroke="#3c3c3c" stroke-width="0.22" textLength="11.7" lengthAdjust="spacingAndGlyphs">18h</text>
<line x1="186.00" y1="202.40" x2="186.00" y2="204.60" stroke="#111" stroke-width="0.9" />
<text x="186.00" y="214.60" font-size="7.2" text-anchor="middle" fill="#3c3c3c" stroke="#3c3c3c" stroke-width="0.22" textLength="11.7" lengthAdjust="spacingAndGlyphs">42h</text>
<line x1="208.20" y1="202.40" x2="208.20" y2="204.60" stroke="#111" stroke-width="0.9" />
<text x="208.20" y="214.60" font-size="7.2" text-anchor="middle" fill="#3c3c3c" stroke="#3c3c3c" stroke-width="0.22" textLength="7.8" lengthAdjust="spacingAndGlyphs">8d</text>
<path d="M181.50 139.40V134.50H190.50V179.10" fill="none" stroke="#111" stroke-width="1.0"/>
<text x="186.00" y="135.10" font-size="7.0" text-anchor="middle" fill="#3c3c3c" stroke="#3c3c3c" stroke-width="0.22">**</text>
<text x="128.00" y="169.60" font-size="8.4" text-anchor="middle" fill="#3c3c3c" stroke="#3c3c3c" stroke-width="0.22" textLength="44.2" lengthAdjust="spacingAndGlyphs" transform="rotate(-90 128.00 169.60)">IL-12 [pg/mL]</text>
<rect x="266.00" y="198.65" width="5.80" height="3.35" fill="#8e9cc6" />
<rect x="274.80" y="199.36" width="5.80" height="2.64" fill="#f2a394" />
<rect x="288.70" y="174.68" width="5.80" height="27.32" fill="#8e9cc6" />
<rect x="297.00" y="188.66" width="5.80" height="13.34" fill="#f2a394" />
<rect x="310.80" y="201.84" width="5.80" height="0.16" fill="#8e9cc6" />
<rect x="319.20" y="201.84" width="5.80" height="0.16" fill="#f2a394" />
<line x1="268.90" y1="200.88" x2="268.90" y2="196.41" stroke="#17375e" stroke-width="0.9" />
<line x1="267.80" y1="196.41" x2="270.00" y2="196.41" stroke="#17375e" stroke-width="0.9" />
<line x1="267.80" y1="200.88" x2="270.00" y2="200.88" stroke="#17375e" stroke-width="0.9" />
<line x1="277.70" y1="201.12" x2="277.70" y2="197.61" stroke="#c8102e" stroke-width="0.9" />
<line x1="276.60" y1="197.61" x2="278.80" y2="197.61" stroke="#c8102e" stroke-width="0.9" />
<line x1="276.60" y1="201.12" x2="278.80" y2="201.12" stroke="#c8102e" stroke-width="0.9" />
<circle cx="267.90" cy="196.01" r="2.05" fill="#17375e"/>
<circle cx="268.90" cy="198.01" r="2.05" fill="#17375e"/>
<circle cx="269.90" cy="199.20" r="2.05" fill="#17375e"/>
<circle cx="267.90" cy="200.64" r="2.05" fill="#17375e"/>
<path d="M276.80 195.90L278.75 199.41L274.85 199.41Z" fill="#c8102e"/>
<path d="M277.70 197.90L279.65 201.41L275.75 201.41Z" fill="#c8102e"/>
<path d="M278.60 199.25L280.55 202.76L276.65 202.76Z" fill="#c8102e"/>
<line x1="291.60" y1="191.30" x2="291.60" y2="158.07" stroke="#17375e" stroke-width="0.9" />
<line x1="290.50" y1="158.07" x2="292.70" y2="158.07" stroke="#17375e" stroke-width="0.9" />
<line x1="290.50" y1="191.30" x2="292.70" y2="191.30" stroke="#17375e" stroke-width="0.9" />
<line x1="299.90" y1="199.28" x2="299.90" y2="178.04" stroke="#c8102e" stroke-width="0.9" />
<line x1="298.80" y1="178.04" x2="301.00" y2="178.04" stroke="#c8102e" stroke-width="0.9" />
<line x1="298.80" y1="199.28" x2="301.00" y2="199.28" stroke="#c8102e" stroke-width="0.9" />
<circle cx="290.60" cy="148.72" r="2.05" fill="#17375e"/>
<circle cx="291.60" cy="153.44" r="2.05" fill="#17375e"/>
<circle cx="292.60" cy="174.04" r="2.05" fill="#17375e"/>
<circle cx="290.60" cy="182.03" r="2.05" fill="#17375e"/>
<circle cx="291.60" cy="184.67" r="2.05" fill="#17375e"/>
<circle cx="292.60" cy="187.38" r="2.05" fill="#17375e"/>
<path d="M299.00 167.94L300.95 171.45L297.05 171.45Z" fill="#c8102e"/>
<path d="M299.90 179.29L301.85 182.80L297.95 182.80Z" fill="#c8102e"/>
<path d="M300.80 181.28L302.75 184.79L298.85 184.79Z" fill="#c8102e"/>
<path d="M299.00 186.55L300.95 190.06L297.05 190.06Z" fill="#c8102e"/>
<path d="M299.90 190.55L301.85 194.06L297.95 194.06Z" fill="#c8102e"/>
<path d="M300.80 194.54L302.75 198.05L298.85 198.05Z" fill="#c8102e"/>
<path d="M299.00 198.54L300.95 202.05L297.05 202.05Z" fill="#c8102e"/>
<line x1="313.70" y1="202.00" x2="313.70" y2="201.68" stroke="#17375e" stroke-width="0.9" />
<line x1="312.60" y1="201.68" x2="314.80" y2="201.68" stroke="#17375e" stroke-width="0.9" />
<line x1="312.60" y1="202.00" x2="314.80" y2="202.00" stroke="#17375e" stroke-width="0.9" />
<line x1="322.10" y1="202.00" x2="322.10" y2="201.68" stroke="#c8102e" stroke-width="0.9" />
<line x1="321.00" y1="201.68" x2="323.20" y2="201.68" stroke="#c8102e" stroke-width="0.9" />
<line x1="321.00" y1="202.00" x2="323.20" y2="202.00" stroke="#c8102e" stroke-width="0.9" />
<circle cx="312.70" cy="201.84" r="2.05" fill="#17375e"/>
<circle cx="313.70" cy="201.84" r="2.05" fill="#17375e"/>
<circle cx="314.70" cy="201.84" r="2.05" fill="#17375e"/>
<path d="M321.20 199.73L323.15 203.24L319.25 203.24Z" fill="#c8102e"/>
<path d="M322.10 199.73L324.05 203.24L320.15 203.24Z" fill="#c8102e"/>
<line x1="263.50" y1="135.60" x2="263.50" y2="203.00" stroke="#111" stroke-width="1.1" />
<line x1="263.00" y1="202.50" x2="327.00" y2="202.50" stroke="#111" stroke-width="1.1" />
<line x1="260.20" y1="202.00" x2="263.40" y2="202.00" stroke="#111" stroke-width="1.0" />
<text x="257.20" y="204.00" font-size="7.0" text-anchor="end" fill="#3c3c3c" stroke="#3c3c3c" stroke-width="0.22" textLength="3.6" lengthAdjust="spacingAndGlyphs">0</text>
<line x1="260.20" y1="186.03" x2="263.40" y2="186.03" stroke="#111" stroke-width="1.0" />
<text x="257.20" y="188.03" font-size="7.0" text-anchor="end" fill="#3c3c3c" stroke="#3c3c3c" stroke-width="0.22" textLength="10.8" lengthAdjust="spacingAndGlyphs">200</text>
<line x1="260.20" y1="170.05" x2="263.40" y2="170.05" stroke="#111" stroke-width="1.0" />
<text x="257.20" y="172.05" font-size="7.0" text-anchor="end" fill="#3c3c3c" stroke="#3c3c3c" stroke-width="0.22" textLength="10.8" lengthAdjust="spacingAndGlyphs">400</text>
<line x1="260.20" y1="154.07" x2="263.40" y2="154.07" stroke="#111" stroke-width="1.0" />
<text x="257.20" y="156.07" font-size="7.0" text-anchor="end" fill="#3c3c3c" stroke="#3c3c3c" stroke-width="0.22" textLength="10.8" lengthAdjust="spacingAndGlyphs">600</text>
<line x1="260.20" y1="138.10" x2="263.40" y2="138.10" stroke="#111" stroke-width="1.0" />
<text x="257.20" y="140.10" font-size="7.0" text-anchor="end" fill="#3c3c3c" stroke="#3c3c3c" stroke-width="0.22" textLength="10.8" lengthAdjust="spacingAndGlyphs">800</text>
<line x1="273.30" y1="202.00" x2="273.30" y2="204.20" stroke="#111" stroke-width="0.9" />
<text x="273.30" y="214.60" font-size="7.2" text-anchor="middle" fill="#3c3c3c" stroke="#3c3c3c" stroke-width="0.22" textLength="11.7" lengthAdjust="spacingAndGlyphs">18h</text>
<line x1="295.75" y1="202.00" x2="295.75" y2="204.20" stroke="#111" stroke-width="0.9" />
<text x="295.75" y="214.60" font-size="7.2" text-anchor="middle" fill="#3c3c3c" stroke="#3c3c3c" stroke-width="0.22" textLength="11.7" lengthAdjust="spacingAndGlyphs">42h</text>
<line x1="317.90" y1="202.00" x2="317.90" y2="204.20" stroke="#111" stroke-width="0.9" />
<text x="317.90" y="214.60" font-size="7.2" text-anchor="middle" fill="#3c3c3c" stroke="#3c3c3c" stroke-width="0.22" textLength="7.8" lengthAdjust="spacingAndGlyphs">8d</text>
<path d="M291.50 144.20V139.50H300.50V164.30" fill="none" stroke="#111" stroke-width="1.0"/>
<text x="296.00" y="140.10" font-size="7.0" text-anchor="middle" fill="#3c3c3c" stroke="#3c3c3c" stroke-width="0.22">**</text>
<text x="237.00" y="167.30" font-size="8.4" text-anchor="middle" fill="#3c3c3c" stroke="#3c3c3c" stroke-width="0.22" textLength="46.5" lengthAdjust="spacingAndGlyphs" transform="rotate(-90 237.00 167.30)">IFN-γ [pg/mL]</text>
<rect x="406.50" y="78.07" width="6.40" height="27.23" fill="#8e9cc6" />
<rect x="416.80" y="67.76" width="6.40" height="37.54" fill="#f2a394" />
<rect x="435.30" y="71.44" width="6.40" height="33.86" fill="#8e9cc6" />
<rect x="445.50" y="64.82" width="6.40" height="40.48" fill="#f2a394" />
<rect x="463.60" y="78.07" width="6.40" height="27.23" fill="#8e9cc6" />
<rect x="473.30" y="68.50" width="6.40" height="36.80" fill="#f2a394" />
<rect x="491.60" y="46.42" width="6.40" height="58.88" fill="#8e9cc6" />
<rect x="502.10" y="52.31" width="6.40" height="52.99" fill="#f2a394" />
<line x1="409.70" y1="86.16" x2="409.70" y2="69.24" stroke="#17375e" stroke-width="0.9" />
<line x1="408.50" y1="69.24" x2="410.90" y2="69.24" stroke="#17375e" stroke-width="0.9" />
<line x1="408.50" y1="86.16" x2="410.90" y2="86.16" stroke="#17375e" stroke-width="0.9" />
<line x1="420.00" y1="77.33" x2="420.00" y2="63.35" stroke="#c8102e" stroke-width="0.9" />
<line x1="418.80" y1="63.35" x2="421.20" y2="63.35" stroke="#c8102e" stroke-width="0.9" />
<line x1="418.80" y1="77.33" x2="421.20" y2="77.33" stroke="#c8102e" stroke-width="0.9" />
<circle cx="408.40" cy="64.08" r="1.45" fill="#17375e"/>
<circle cx="409.70" cy="69.97" r="1.45" fill="#17375e"/>
<circle cx="411.00" cy="75.86" r="1.45" fill="#17375e"/>
<circle cx="408.40" cy="77.33" r="1.45" fill="#17375e"/>
<circle cx="409.70" cy="79.54" r="1.45" fill="#17375e"/>
<circle cx="411.00" cy="83.22" r="1.45" fill="#17375e"/>
<circle cx="408.40" cy="86.16" r="1.45" fill="#17375e"/>
<rect x="416.90" y="61.85" width="3.0" height="3.0" fill="none" stroke="#c8102e" stroke-width="0.95"/>
<rect x="418.50" y="65.53" width="3.0" height="3.0" fill="none" stroke="#c8102e" stroke-width="0.95"/>
<rect x="420.10" y="67.00" width="3.0" height="3.0" fill="none" stroke="#c8102e" stroke-width="0.95"/>
<rect x="416.90" y="69.21" width="3.0" height="3.0" fill="none" stroke="#c8102e" stroke-width="0.95"/>
<rect x="418.50" y="78.78" width="3.0" height="3.0" fill="none" stroke="#c8102e" stroke-width="0.95"/>
<rect x="420.10" y="83.93" width="3.0" height="3.0" fill="none" stroke="#c8102e" stroke-width="0.95"/>
<line x1="438.50" y1="73.65" x2="438.50" y2="69.24" stroke="#17375e" stroke-width="0.9" />
<line x1="437.30" y1="69.24" x2="439.70" y2="69.24" stroke="#17375e" stroke-width="0.9" />
<line x1="437.30" y1="73.65" x2="439.70" y2="73.65" stroke="#17375e" stroke-width="0.9" />
<line x1="448.70" y1="72.92" x2="448.70" y2="53.78" stroke="#c8102e" stroke-width="0.9" />
<line x1="447.50" y1="53.78" x2="449.90" y2="53.78" stroke="#c8102e" stroke-width="0.9" />
<line x1="447.50" y1="72.92" x2="449.90" y2="72.92" stroke="#c8102e" stroke-width="0.9" />
<circle cx="437.20" cy="68.50" r="1.45" fill="#17375e"/>
<circle cx="438.50" cy="71.44" r="1.45" fill="#17375e"/>
<circle cx="439.80" cy="72.92" r="1.45" fill="#17375e"/>
<circle cx="437.20" cy="70.71" r="1.45" fill="#17375e"/>
<rect x="445.60" y="39.77" width="3.0" height="3.0" fill="none" stroke="#c8102e" stroke-width="0.95"/>
<rect x="447.20" y="51.54" width="3.0" height="3.0" fill="none" stroke="#c8102e" stroke-width="0.95"/>
<rect x="448.80" y="59.64" width="3.0" height="3.0" fill="none" stroke="#c8102e" stroke-width="0.95"/>
<rect x="445.60" y="63.32" width="3.0" height="3.0" fill="none" stroke="#c8102e" stroke-width="0.95"/>
<rect x="447.20" y="69.94" width="3.0" height="3.0" fill="none" stroke="#c8102e" stroke-width="0.95"/>
<rect x="448.80" y="71.42" width="3.0" height="3.0" fill="none" stroke="#c8102e" stroke-width="0.95"/>
<line x1="466.80" y1="86.16" x2="466.80" y2="69.24" stroke="#17375e" stroke-width="0.9" />
<line x1="465.60" y1="69.24" x2="468.00" y2="69.24" stroke="#17375e" stroke-width="0.9" />
<line x1="465.60" y1="86.16" x2="468.00" y2="86.16" stroke="#17375e" stroke-width="0.9" />
<line x1="476.50" y1="77.33" x2="476.50" y2="63.35" stroke="#c8102e" stroke-width="0.9" />
<line x1="475.30" y1="63.35" x2="477.70" y2="63.35" stroke="#c8102e" stroke-width="0.9" />
<line x1="475.30" y1="77.33" x2="477.70" y2="77.33" stroke="#c8102e" stroke-width="0.9" />
<circle cx="465.50" cy="64.08" r="1.45" fill="#17375e"/>
<circle cx="466.80" cy="69.97" r="1.45" fill="#17375e"/>
<circle cx="468.10" cy="75.86" r="1.45" fill="#17375e"/>
<circle cx="465.50" cy="77.33" r="1.45" fill="#17375e"/>
<circle cx="466.80" cy="79.54" r="1.45" fill="#17375e"/>
<circle cx="468.10" cy="83.22" r="1.45" fill="#17375e"/>
<circle cx="465.50" cy="86.16" r="1.45" fill="#17375e"/>
<rect x="473.40" y="61.85" width="3.0" height="3.0" fill="none" stroke="#c8102e" stroke-width="0.95"/>
<rect x="475.00" y="65.53" width="3.0" height="3.0" fill="none" stroke="#c8102e" stroke-width="0.95"/>
<rect x="476.60" y="68.47" width="3.0" height="3.0" fill="none" stroke="#c8102e" stroke-width="0.95"/>
<rect x="473.40" y="78.78" width="3.0" height="3.0" fill="none" stroke="#c8102e" stroke-width="0.95"/>
<rect x="475.00" y="83.93" width="3.0" height="3.0" fill="none" stroke="#c8102e" stroke-width="0.95"/>
<line x1="494.80" y1="53.78" x2="494.80" y2="39.80" stroke="#17375e" stroke-width="0.9" />
<line x1="493.60" y1="39.80" x2="496.00" y2="39.80" stroke="#17375e" stroke-width="0.9" />
<line x1="493.60" y1="53.78" x2="496.00" y2="53.78" stroke="#17375e" stroke-width="0.9" />
<line x1="505.30" y1="67.03" x2="505.30" y2="39.80" stroke="#c8102e" stroke-width="0.9" />
<line x1="504.10" y1="39.80" x2="506.50" y2="39.80" stroke="#c8102e" stroke-width="0.9" />
<line x1="504.10" y1="67.03" x2="506.50" y2="67.03" stroke="#c8102e" stroke-width="0.9" />
<circle cx="493.50" cy="36.12" r="1.45" fill="#17375e"/>
<circle cx="494.80" cy="40.53" r="1.45" fill="#17375e"/>
<circle cx="496.10" cy="43.48" r="1.45" fill="#17375e"/>
<circle cx="493.50" cy="44.95" r="1.45" fill="#17375e"/>
<circle cx="494.80" cy="46.42" r="1.45" fill="#17375e"/>
<circle cx="496.10" cy="49.36" r="1.45" fill="#17375e"/>
<circle cx="493.50" cy="62.61" r="1.45" fill="#17375e"/>
<rect x="502.20" y="41.98" width="3.0" height="3.0" fill="none" stroke="#c8102e" stroke-width="0.95"/>
<rect x="503.80" y="43.45" width="3.0" height="3.0" fill="none" stroke="#c8102e" stroke-width="0.95"/>
<rect x="505.40" y="46.39" width="3.0" height="3.0" fill="none" stroke="#c8102e" stroke-width="0.95"/>
<rect x="502.20" y="53.75" width="3.0" height="3.0" fill="none" stroke="#c8102e" stroke-width="0.95"/>
<rect x="503.80" y="85.40" width="3.0" height="3.0" fill="none" stroke="#c8102e" stroke-width="0.95"/>
<line x1="402.50" y1="28.50" x2="402.50" y2="105.80" stroke="#111" stroke-width="1.1" />
<line x1="402.00" y1="105.30" x2="510.50" y2="105.30" stroke="#111" stroke-width="1.1" />
<line x1="399.50" y1="105.30" x2="402.50" y2="105.30" stroke="#111" stroke-width="0.9" />
<text x="395.90" y="107.70" font-size="7.0" text-anchor="end" fill="#3c3c3c" stroke="#3c3c3c" stroke-width="0.22">0</text>
<line x1="399.50" y1="90.58" x2="402.50" y2="90.58" stroke="#111" stroke-width="0.9" />
<text x="395.90" y="92.98" font-size="7.0" text-anchor="end" fill="#3c3c3c" stroke="#3c3c3c" stroke-width="0.22">1</text>
<line x1="399.50" y1="75.86" x2="402.50" y2="75.86" stroke="#111" stroke-width="0.9" />
<text x="395.90" y="78.26" font-size="7.0" text-anchor="end" fill="#3c3c3c" stroke="#3c3c3c" stroke-width="0.22">2</text>
<line x1="399.50" y1="61.14" x2="402.50" y2="61.14" stroke="#111" stroke-width="0.9" />
<text x="395.90" y="63.54" font-size="7.0" text-anchor="end" fill="#3c3c3c" stroke="#3c3c3c" stroke-width="0.22">3</text>
<line x1="399.50" y1="46.42" x2="402.50" y2="46.42" stroke="#111" stroke-width="0.9" />
<text x="395.90" y="48.82" font-size="7.0" text-anchor="end" fill="#3c3c3c" stroke="#3c3c3c" stroke-width="0.22">4</text>
<line x1="399.50" y1="31.70" x2="402.50" y2="31.70" stroke="#111" stroke-width="0.9" />
<text x="395.90" y="34.10" font-size="7.0" text-anchor="end" fill="#3c3c3c" stroke="#3c3c3c" stroke-width="0.22">5</text>
<line x1="414.85" y1="105.30" x2="414.85" y2="107.50" stroke="#111" stroke-width="0.9" />
<text x="414.85" y="117.50" font-size="7.2" text-anchor="middle" fill="#3c3c3c" stroke="#3c3c3c" stroke-width="0.22" textLength="18" lengthAdjust="spacingAndGlyphs">Lungs</text>
<line x1="443.60" y1="105.30" x2="443.60" y2="107.50" stroke="#111" stroke-width="0.9" />
<text x="443.60" y="117.50" font-size="7.2" text-anchor="middle" fill="#3c3c3c" stroke="#3c3c3c" stroke-width="0.22" textLength="21" lengthAdjust="spacingAndGlyphs">Spleen</text>
<line x1="471.65" y1="105.30" x2="471.65" y2="107.50" stroke="#111" stroke-width="0.9" />
<text x="471.65" y="117.50" font-size="7.2" text-anchor="middle" fill="#3c3c3c" stroke="#3c3c3c" stroke-width="0.22" textLength="14" lengthAdjust="spacingAndGlyphs">Liver</text>
<line x1="500.05" y1="105.30" x2="500.05" y2="107.50" stroke="#111" stroke-width="0.9" />
<text x="500.05" y="117.50" font-size="7.2" text-anchor="middle" fill="#3c3c3c" stroke="#3c3c3c" stroke-width="0.22" textLength="24" lengthAdjust="spacingAndGlyphs">Salivary</text>
<text x="500.05" y="126.30" font-size="7.2" text-anchor="middle" fill="#3c3c3c" stroke="#3c3c3c" stroke-width="0.22" textLength="21" lengthAdjust="spacingAndGlyphs">glands</text>
<line x1="406.20" y1="55.60" x2="423.90" y2="55.60" stroke="#333" stroke-width="0.9" />
<text x="415.05" y="53.60" font-size="6.6" text-anchor="middle" fill="#3c3c3c" stroke="#3c3c3c" stroke-width="0.22" textLength="11" lengthAdjust="spacingAndGlyphs">n.s.</text>
<line x1="435.00" y1="37.20" x2="452.70" y2="37.20" stroke="#333" stroke-width="0.9" />
<text x="443.85" y="35.20" font-size="6.6" text-anchor="middle" fill="#3c3c3c" stroke="#3c3c3c" stroke-width="0.22" textLength="11" lengthAdjust="spacingAndGlyphs">n.s.</text>
<line x1="463.20" y1="55.60" x2="480.90" y2="55.60" stroke="#333" stroke-width="0.9" />
<text x="472.05" y="53.60" font-size="6.6" text-anchor="middle" fill="#3c3c3c" stroke="#3c3c3c" stroke-width="0.22" textLength="11" lengthAdjust="spacingAndGlyphs">n.s.</text>
<line x1="491.20" y1="30.20" x2="508.90" y2="30.20" stroke="#333" stroke-width="0.9" />
<text x="500.05" y="28.20" font-size="6.6" text-anchor="middle" fill="#3c3c3c" stroke="#3c3c3c" stroke-width="0.22" textLength="11" lengthAdjust="spacingAndGlyphs">n.s.</text>
<circle cx="402.80" cy="23.30" r="1.4" fill="#17375e"/>
<text x="407.00" y="25.60" font-size="7.2" text-anchor="start" fill="#3c3c3c" stroke="#3c3c3c" stroke-width="0.22" textLength="16.6" lengthAdjust="spacingAndGlyphs">saline</text>
<rect x="430.80" y="21.90" width="2.8" height="2.8" fill="none" stroke="#c8102e" stroke-width="0.9"/>
<text x="436.50" y="25.60" font-size="7.2" text-anchor="start" fill="#3c3c3c" stroke="#3c3c3c" stroke-width="0.22" textLength="20.5" lengthAdjust="spacingAndGlyphs">NAPc2</text>
<text x="369.50" y="66.90" font-size="8.6" text-anchor="middle" fill="#3c3c3c" stroke="#3c3c3c" stroke-width="0.22" textLength="60" lengthAdjust="spacingAndGlyphs" transform="rotate(-90 369.50 66.90)">Viral genomes/10<tspan font-size="5.5" dy="-3.2">6</tspan></text>
<text x="379.50" y="67.30" font-size="8.6" text-anchor="middle" fill="#3c3c3c" stroke="#3c3c3c" stroke-width="0.22" textLength="37.7" lengthAdjust="spacingAndGlyphs" transform="rotate(-90 379.50 67.30)">cells [log<tspan font-size="5.5" dy="1.8">10</tspan><tspan dy="-1.8">]</tspan></text>
<line x1="402.40" y1="166.00" x2="402.40" y2="239.80" stroke="#111" stroke-width="1.1" />
<line x1="401.90" y1="239.30" x2="477.50" y2="239.30" stroke="#111" stroke-width="1.1" />
<line x1="399.40" y1="239.30" x2="402.40" y2="239.30" stroke="#111" stroke-width="0.9" />
<text x="396.20" y="241.70" font-size="6.8" text-anchor="end" fill="#3c3c3c" stroke="#3c3c3c" stroke-width="0.22" textLength="9" lengthAdjust="spacingAndGlyphs">0.0</text>
<line x1="399.40" y1="224.10" x2="402.40" y2="224.10" stroke="#111" stroke-width="0.9" />
<text x="396.20" y="226.50" font-size="6.8" text-anchor="end" fill="#3c3c3c" stroke="#3c3c3c" stroke-width="0.22" textLength="9" lengthAdjust="spacingAndGlyphs">0.5</text>
<line x1="399.40" y1="208.90" x2="402.40" y2="208.90" stroke="#111" stroke-width="0.9" />
<text x="396.20" y="211.30" font-size="6.8" text-anchor="end" fill="#3c3c3c" stroke="#3c3c3c" stroke-width="0.22" textLength="9" lengthAdjust="spacingAndGlyphs">1.0</text>
<line x1="399.40" y1="193.70" x2="402.40" y2="193.70" stroke="#111" stroke-width="0.9" />
<text x="396.20" y="196.10" font-size="6.8" text-anchor="end" fill="#3c3c3c" stroke="#3c3c3c" stroke-width="0.22" textLength="9" lengthAdjust="spacingAndGlyphs">1.5</text>
<line x1="399.40" y1="178.50" x2="402.40" y2="178.50" stroke="#111" stroke-width="0.9" />
<text x="396.20" y="180.90" font-size="6.8" text-anchor="end" fill="#3c3c3c" stroke="#3c3c3c" stroke-width="0.22" textLength="9" lengthAdjust="spacingAndGlyphs">2.0</text>
<line x1="402.40" y1="239.30" x2="402.40" y2="241.80" stroke="#111" stroke-width="0.9" />
<text x="402.40" y="251.30" font-size="6.8" text-anchor="middle" fill="#3c3c3c" stroke="#3c3c3c" stroke-width="0.22">0</text>
<line x1="417.25" y1="239.30" x2="417.25" y2="241.80" stroke="#111" stroke-width="0.9" />
<text x="417.25" y="251.30" font-size="6.8" text-anchor="middle" fill="#3c3c3c" stroke="#3c3c3c" stroke-width="0.22">5</text>
<line x1="432.10" y1="239.30" x2="432.10" y2="241.80" stroke="#111" stroke-width="0.9" />
<text x="432.10" y="251.30" font-size="6.8" text-anchor="middle" fill="#3c3c3c" stroke="#3c3c3c" stroke-width="0.22">10</text>
<line x1="446.95" y1="239.30" x2="446.95" y2="241.80" stroke="#111" stroke-width="0.9" />
<text x="446.95" y="251.30" font-size="6.8" text-anchor="middle" fill="#3c3c3c" stroke="#3c3c3c" stroke-width="0.22">15</text>
<line x1="461.80" y1="239.30" x2="461.80" y2="241.80" stroke="#111" stroke-width="0.9" />
<text x="461.80" y="251.30" font-size="6.8" text-anchor="middle" fill="#3c3c3c" stroke="#3c3c3c" stroke-width="0.22">20</text>
<line x1="476.65" y1="239.30" x2="476.65" y2="241.80" stroke="#111" stroke-width="0.9" />
<text x="476.65" y="251.30" font-size="6.8" text-anchor="middle" fill="#3c3c3c" stroke="#3c3c3c" stroke-width="0.22">25</text>
<text x="441.20" y="264.90" font-size="9.2" text-anchor="middle" fill="#3c3c3c" stroke="#3c3c3c" stroke-width="0.22" textLength="35.5" lengthAdjust="spacingAndGlyphs">Time [days]</text>
<text x="382.30" y="202.30" font-size="9.0" text-anchor="middle" fill="#3c3c3c" stroke="#3c3c3c" stroke-width="0.22" textLength="78" lengthAdjust="spacingAndGlyphs" transform="rotate(-90 382.30 202.30)">Cardiolipin binding (OD)</text>
<polyline points="402.40,232.70 411.31,232.70 423.19,229.00 443.98,228.70 464.77,225.90" fill="none" stroke="#c8102e" stroke-width="1.3"/>
<circle cx="402.40" cy="232.70" r="1.7" fill="#fff" stroke="#c8102e" stroke-width="1"/>
<line x1="411.31" y1="235.00" x2="411.31" y2="230.50" stroke="#c8102e" stroke-width="0.9" />
<line x1="410.01" y1="230.50" x2="412.61" y2="230.50" stroke="#c8102e" stroke-width="0.9" />
<line x1="410.01" y1="235.00" x2="412.61" y2="235.00" stroke="#c8102e" stroke-width="0.9" />
<circle cx="411.31" cy="232.70" r="1.7" fill="#fff" stroke="#c8102e" stroke-width="1"/>
<line x1="423.19" y1="231.80" x2="423.19" y2="226.30" stroke="#c8102e" stroke-width="0.9" />
<line x1="421.89" y1="226.30" x2="424.49" y2="226.30" stroke="#c8102e" stroke-width="0.9" />
<line x1="421.89" y1="231.80" x2="424.49" y2="231.80" stroke="#c8102e" stroke-width="0.9" />
<circle cx="423.19" cy="229.00" r="1.7" fill="#fff" stroke="#c8102e" stroke-width="1"/>
<line x1="443.98" y1="231.20" x2="443.98" y2="226.30" stroke="#c8102e" stroke-width="0.9" />
<line x1="442.68" y1="226.30" x2="445.28" y2="226.30" stroke="#c8102e" stroke-width="0.9" />
<line x1="442.68" y1="231.20" x2="445.28" y2="231.20" stroke="#c8102e" stroke-width="0.9" />
<circle cx="443.98" cy="228.70" r="1.7" fill="#fff" stroke="#c8102e" stroke-width="1"/>
<line x1="464.77" y1="228.60" x2="464.77" y2="223.30" stroke="#c8102e" stroke-width="0.9" />
<line x1="463.47" y1="223.30" x2="466.07" y2="223.30" stroke="#c8102e" stroke-width="0.9" />
<line x1="463.47" y1="228.60" x2="466.07" y2="228.60" stroke="#c8102e" stroke-width="0.9" />
<circle cx="464.77" cy="225.90" r="1.7" fill="#fff" stroke="#c8102e" stroke-width="1"/>
<polyline points="402.40,231.90 411.31,215.60 423.19,200.90 443.98,198.90 464.77,182.00" fill="none" stroke="#17375e" stroke-width="1.3"/>
<circle cx="402.40" cy="231.90" r="1.5" fill="#17375e"/>
<line x1="411.31" y1="222.90" x2="411.31" y2="208.20" stroke="#17375e" stroke-width="0.9" />
<line x1="410.01" y1="208.20" x2="412.61" y2="208.20" stroke="#17375e" stroke-width="0.9" />
<line x1="410.01" y1="222.90" x2="412.61" y2="222.90" stroke="#17375e" stroke-width="0.9" />
<circle cx="411.31" cy="215.60" r="1.5" fill="#17375e"/>
<line x1="423.19" y1="206.60" x2="423.19" y2="195.60" stroke="#17375e" stroke-width="0.9" />
<line x1="421.89" y1="195.60" x2="424.49" y2="195.60" stroke="#17375e" stroke-width="0.9" />
<line x1="421.89" y1="206.60" x2="424.49" y2="206.60" stroke="#17375e" stroke-width="0.9" />
<circle cx="423.19" cy="200.90" r="1.5" fill="#17375e"/>
<line x1="443.98" y1="202.80" x2="443.98" y2="194.70" stroke="#17375e" stroke-width="0.9" />
<line x1="442.68" y1="194.70" x2="445.28" y2="194.70" stroke="#17375e" stroke-width="0.9" />
<line x1="442.68" y1="202.80" x2="445.28" y2="202.80" stroke="#17375e" stroke-width="0.9" />
<circle cx="443.98" cy="198.90" r="1.5" fill="#17375e"/>
<line x1="464.77" y1="193.50" x2="464.77" y2="170.60" stroke="#17375e" stroke-width="0.9" />
<line x1="463.47" y1="170.60" x2="466.07" y2="170.60" stroke="#17375e" stroke-width="0.9" />
<line x1="463.47" y1="193.50" x2="466.07" y2="193.50" stroke="#17375e" stroke-width="0.9" />
<circle cx="464.77" cy="182.00" r="1.5" fill="#17375e"/>
<text x="411.31" y="230.40" font-size="6.3" text-anchor="middle" fill="#3c3c3c" stroke="#3c3c3c" stroke-width="0.22">*</text>
<text x="423.19" y="225.60" font-size="6.3" text-anchor="middle" fill="#3c3c3c" stroke="#3c3c3c" stroke-width="0.22">*</text>
<text x="443.98" y="225.60" font-size="6.3" text-anchor="middle" fill="#3c3c3c" stroke="#3c3c3c" stroke-width="0.22">*</text>
<text x="464.77" y="223.10" font-size="6.3" text-anchor="middle" fill="#3c3c3c" stroke="#3c3c3c" stroke-width="0.22">*</text>
<line x1="409.80" y1="169.50" x2="416.20" y2="169.50" stroke="#17375e" stroke-width="1.3" />
<circle cx="413.00" cy="169.50" r="1.4" fill="#17375e"/>
<text x="418.80" y="172.00" font-size="7.6" text-anchor="start" fill="#3c3c3c" stroke="#3c3c3c" stroke-width="0.22" textLength="16.5" lengthAdjust="spacingAndGlyphs">saline</text>
<line x1="409.80" y1="180.40" x2="416.20" y2="180.40" stroke="#c8102e" stroke-width="1.3" />
<circle cx="413.0" cy="180.4" r="1.7" fill="#fff" stroke="#c8102e" stroke-width="1"/>
<text x="418.80" y="183.00" font-size="7.6" text-anchor="start" fill="#3c3c3c" stroke="#3c3c3c" stroke-width="0.22" textLength="20.5" lengthAdjust="spacingAndGlyphs">NAPc2</text>
<rect x="412.10" y="324.73" width="16.40" height="78.27" fill="#8e9cc6" />
<line x1="420.30" y1="326.27" x2="420.30" y2="321.62" stroke="#17375e" stroke-width="0.9" />
<line x1="418.80" y1="321.62" x2="421.80" y2="321.62" stroke="#17375e" stroke-width="0.9" />
<line x1="418.80" y1="326.27" x2="421.80" y2="326.27" stroke="#17375e" stroke-width="0.9" />
<circle cx="413.30" cy="325.65" r="1.9" fill="#17375e"/>
<circle cx="416.50" cy="322.40" r="1.9" fill="#17375e"/>
<circle cx="420.20" cy="324.88" r="1.9" fill="#17375e"/>
<circle cx="423.20" cy="323.95" r="1.9" fill="#17375e"/>
<circle cx="426.90" cy="326.12" r="1.9" fill="#17375e"/>
<circle cx="419.50" cy="318.99" r="1.9" fill="#17375e"/>
<circle cx="423.90" cy="319.76" r="1.9" fill="#17375e"/>
<circle cx="421.40" cy="322.56" r="1.9" fill="#17375e"/>
<circle cx="438.00" cy="402.70" r="1.2" fill="#c8102e"/>
<circle cx="440.10" cy="402.70" r="1.2" fill="#c8102e"/>
<circle cx="442.20" cy="402.70" r="1.2" fill="#c8102e"/>
<circle cx="444.30" cy="402.70" r="1.2" fill="#c8102e"/>
<circle cx="446.40" cy="402.70" r="1.2" fill="#c8102e"/>
<circle cx="448.50" cy="402.70" r="1.2" fill="#c8102e"/>
<circle cx="450.60" cy="402.70" r="1.2" fill="#c8102e"/>
<circle cx="452.70" cy="402.70" r="1.2" fill="#c8102e"/>
<circle cx="454.80" cy="402.70" r="1.2" fill="#c8102e"/>
<line x1="437.30" y1="402.80" x2="455.60" y2="402.80" stroke="#c8102e" stroke-width="1.6" />
<line x1="402.50" y1="307.50" x2="402.50" y2="403.50" stroke="#111" stroke-width="1.1" />
<line x1="402.00" y1="403.50" x2="464.40" y2="403.50" stroke="#111" stroke-width="1.1" />
<line x1="399.50" y1="403.00" x2="402.50" y2="403.00" stroke="#111" stroke-width="0.9" />
<text x="395.90" y="405.40" font-size="7.0" text-anchor="end" fill="#3c3c3c" stroke="#3c3c3c" stroke-width="0.22">0</text>
<line x1="399.50" y1="372.00" x2="402.50" y2="372.00" stroke="#111" stroke-width="0.9" />
<text x="395.90" y="374.40" font-size="7.0" text-anchor="end" fill="#3c3c3c" stroke="#3c3c3c" stroke-width="0.22">20</text>
<line x1="399.50" y1="341.00" x2="402.50" y2="341.00" stroke="#111" stroke-width="0.9" />
<text x="395.90" y="343.40" font-size="7.0" text-anchor="end" fill="#3c3c3c" stroke="#3c3c3c" stroke-width="0.22">40</text>
<line x1="399.50" y1="310.00" x2="402.50" y2="310.00" stroke="#111" stroke-width="0.9" />
<text x="395.90" y="312.40" font-size="7.0" text-anchor="end" fill="#3c3c3c" stroke="#3c3c3c" stroke-width="0.22">60</text>
<line x1="420.30" y1="403.00" x2="420.30" y2="405.30" stroke="#111" stroke-width="0.9" />
<text x="420.30" y="415.30" font-size="7.2" text-anchor="middle" fill="#3c3c3c" stroke="#3c3c3c" stroke-width="0.22" textLength="17.5" lengthAdjust="spacingAndGlyphs">saline</text>
<line x1="446.50" y1="403.00" x2="446.50" y2="405.30" stroke="#111" stroke-width="0.9" />
<text x="446.50" y="415.30" font-size="7.2" text-anchor="middle" fill="#3c3c3c" stroke="#3c3c3c" stroke-width="0.22" textLength="19.5" lengthAdjust="spacingAndGlyphs">NAPc2</text>
<path d="M419.6 314.0V308.6H446.4V340.3" fill="none" stroke="#222" stroke-width="0.9"/>
<text x="433.20" y="308.30" font-size="7.0" text-anchor="middle" fill="#3c3c3c" stroke="#3c3c3c" stroke-width="0.22">*</text>
<text x="384.00" y="354.40" font-size="8.2" text-anchor="middle" fill="#3c3c3c" stroke="#3c3c3c" stroke-width="0.22" textLength="88" lengthAdjust="spacingAndGlyphs" transform="rotate(-90 384.00 354.40)">PL vesicle<tspan font-size="5.2" dy="-3">+</tspan><tspan dy="3"> CD19</tspan><tspan font-size="5.2" dy="-3">+</tspan><tspan dy="3"> cells [%]</tspan></text>
<rect x="410.00" y="496.45" width="13.20" height="49.15" fill="#8e9cc6" />
<rect x="426.30" y="529.47" width="13.20" height="16.13" fill="#f2a394" />
<rect x="457.00" y="505.43" width="13.20" height="40.17" fill="#8e9cc6" />
<rect x="473.40" y="532.54" width="13.20" height="13.06" fill="#f2a394" />
<line x1="416.60" y1="502.98" x2="416.60" y2="486.31" stroke="#17375e" stroke-width="0.9" />
<line x1="414.60" y1="486.31" x2="418.60" y2="486.31" stroke="#17375e" stroke-width="0.9" />
<line x1="414.60" y1="502.98" x2="418.60" y2="502.98" stroke="#17375e" stroke-width="0.9" />
<circle cx="411.00" cy="483.08" r="2.0" fill="#17375e"/>
<circle cx="416.40" cy="486.46" r="2.0" fill="#17375e"/>
<circle cx="411.00" cy="495.53" r="2.0" fill="#17375e"/>
<circle cx="416.20" cy="498.29" r="2.0" fill="#17375e"/>
<circle cx="420.80" cy="496.45" r="2.0" fill="#17375e"/>
<circle cx="416.20" cy="506.59" r="2.0" fill="#17375e"/>
<rect x="426.50" y="525.37" width="3.6" height="3.6" fill="none" stroke="#c8102e" stroke-width="1.1"/>
<rect x="431.40" y="524.98" width="3.6" height="3.6" fill="none" stroke="#c8102e" stroke-width="1.1"/>
<rect x="436.20" y="524.22" width="3.6" height="3.6" fill="none" stroke="#c8102e" stroke-width="1.1"/>
<rect x="426.50" y="530.36" width="3.6" height="3.6" fill="none" stroke="#c8102e" stroke-width="1.1"/>
<rect x="431.40" y="529.98" width="3.6" height="3.6" fill="none" stroke="#c8102e" stroke-width="1.1"/>
<rect x="436.20" y="529.21" width="3.6" height="3.6" fill="none" stroke="#c8102e" stroke-width="1.1"/>
<rect x="429.70" y="527.67" width="3.6" height="3.6" fill="none" stroke="#c8102e" stroke-width="1.1"/>
<line x1="463.60" y1="517.41" x2="463.60" y2="492.30" stroke="#17375e" stroke-width="0.9" />
<line x1="461.60" y1="492.30" x2="465.60" y2="492.30" stroke="#17375e" stroke-width="0.9" />
<line x1="461.60" y1="517.41" x2="465.60" y2="517.41" stroke="#17375e" stroke-width="0.9" />
<circle cx="463.00" cy="483.62" r="2.0" fill="#17375e"/>
<circle cx="463.00" cy="498.91" r="2.0" fill="#17375e"/>
<circle cx="458.20" cy="508.20" r="2.0" fill="#17375e"/>
<circle cx="468.10" cy="505.82" r="2.0" fill="#17375e"/>
<circle cx="468.10" cy="509.89" r="2.0" fill="#17375e"/>
<circle cx="463.00" cy="521.02" r="2.0" fill="#17375e"/>
<rect x="473.50" y="526.52" width="3.6" height="3.6" fill="none" stroke="#c8102e" stroke-width="1.1"/>
<rect x="478.20" y="528.82" width="3.6" height="3.6" fill="none" stroke="#c8102e" stroke-width="1.1"/>
<rect x="482.90" y="530.36" width="3.6" height="3.6" fill="none" stroke="#c8102e" stroke-width="1.1"/>
<rect x="473.50" y="532.28" width="3.6" height="3.6" fill="none" stroke="#c8102e" stroke-width="1.1"/>
<rect x="478.20" y="533.43" width="3.6" height="3.6" fill="none" stroke="#c8102e" stroke-width="1.1"/>
<rect x="482.90" y="534.20" width="3.6" height="3.6" fill="none" stroke="#c8102e" stroke-width="1.1"/>
<rect x="476.20" y="536.12" width="3.6" height="3.6" fill="none" stroke="#c8102e" stroke-width="1.1"/>
<line x1="402.30" y1="454.80" x2="402.30" y2="546.10" stroke="#111" stroke-width="1.1" />
<line x1="401.80" y1="545.60" x2="492.00" y2="545.60" stroke="#111" stroke-width="1.1" />
<line x1="399.30" y1="545.60" x2="402.30" y2="545.60" stroke="#111" stroke-width="0.9" />
<text x="395.90" y="548.00" font-size="7.0" text-anchor="end" fill="#3c3c3c" stroke="#3c3c3c" stroke-width="0.22">0</text>
<line x1="399.30" y1="507.20" x2="402.30" y2="507.20" stroke="#111" stroke-width="0.9" />
<text x="395.90" y="509.60" font-size="7.0" text-anchor="end" fill="#3c3c3c" stroke="#3c3c3c" stroke-width="0.22">50</text>
<line x1="399.30" y1="468.80" x2="402.30" y2="468.80" stroke="#111" stroke-width="0.9" />
<text x="395.90" y="471.20" font-size="7.0" text-anchor="end" fill="#3c3c3c" stroke="#3c3c3c" stroke-width="0.22">100</text>
<line x1="400.30" y1="526.40" x2="402.30" y2="526.40" stroke="#111" stroke-width="0.8" />
<line x1="400.30" y1="488.00" x2="402.30" y2="488.00" stroke="#111" stroke-width="0.8" />
<line x1="424.50" y1="545.60" x2="424.50" y2="547.90" stroke="#111" stroke-width="0.9" />
<text x="424.50" y="558.40" font-size="7.4" text-anchor="middle" fill="#3c3c3c" stroke="#3c3c3c" stroke-width="0.22" textLength="15.4" lengthAdjust="spacingAndGlyphs">LBPA</text>
<line x1="471.60" y1="545.60" x2="471.60" y2="547.90" stroke="#111" stroke-width="0.9" />
<text x="471.60" y="558.40" font-size="7.4" text-anchor="middle" fill="#3c3c3c" stroke="#3c3c3c" stroke-width="0.22" textLength="18.3" lengthAdjust="spacingAndGlyphs">β2GPI</text>
<path d="M416.0 477.5V472.7H433.4V499.6" fill="none" stroke="#222" stroke-width="0.9"/>
<text x="424.70" y="472.50" font-size="7.0" text-anchor="middle" fill="#3c3c3c" stroke="#3c3c3c" stroke-width="0.22">*</text>
<path d="M463.4 477.5V472.7H480.8V499.6" fill="none" stroke="#222" stroke-width="0.9"/>
<text x="472.10" y="472.50" font-size="7.0" text-anchor="middle" fill="#3c3c3c" stroke="#3c3c3c" stroke-width="0.22">*</text>
<circle cx="421.30" cy="457.70" r="1.4" fill="#17375e"/>
<text x="426.00" y="460.20" font-size="7.4" text-anchor="start" fill="#3c3c3c" stroke="#3c3c3c" stroke-width="0.22" textLength="17.5" lengthAdjust="spacingAndGlyphs">saline</text>
<rect x="450.60" y="456.30" width="2.8" height="2.8" fill="none" stroke="#c8102e" stroke-width="0.9"/>
<text x="456.00" y="460.20" font-size="7.4" text-anchor="start" fill="#3c3c3c" stroke="#3c3c3c" stroke-width="0.22" textLength="18.5" lengthAdjust="spacingAndGlyphs">NAPc2</text>
<text x="369.20" y="500.40" font-size="8.6" text-anchor="middle" fill="#3c3c3c" stroke="#3c3c3c" stroke-width="0.22" textLength="51.6" lengthAdjust="spacingAndGlyphs" transform="rotate(-90 369.20 500.40)">Antigen binding</text>
<text x="380.20" y="500.00" font-size="8.6" text-anchor="middle" fill="#3c3c3c" stroke="#3c3c3c" stroke-width="0.22" textLength="46" lengthAdjust="spacingAndGlyphs" transform="rotate(-90 380.20 500.00)">(arbitrary unit)</text>
<path d="M67.6 315.5L68.9 311L69.4 296L69.9 255.6L70.4 296L70.9 309L72.6 315.5Z M85.5 315.5Q87.8 313.2 89.2 311.9Q90.2 311.2 91.2 311.9Q92.6 313.2 95.2 315.5Z" fill="#1f4a84" stroke="#111" stroke-width="0.6" stroke-linejoin="round"/>
<rect x="54.30" y="249.50" width="66.40" height="66.00" fill="none" stroke="#111" stroke-width="1.0"/>
<line x1="51.30" y1="258.20" x2="54.30" y2="258.20" stroke="#111" stroke-width="0.9" />
<text x="47.10" y="260.50" font-size="6.5" text-anchor="end" fill="#3c3c3c" stroke="#3c3c3c" stroke-width="0.22">1,2K</text>
<line x1="51.30" y1="272.50" x2="54.30" y2="272.50" stroke="#111" stroke-width="0.9" />
<text x="47.10" y="274.80" font-size="6.5" text-anchor="end" fill="#3c3c3c" stroke="#3c3c3c" stroke-width="0.22">900</text>
<line x1="51.30" y1="286.80" x2="54.30" y2="286.80" stroke="#111" stroke-width="0.9" />
<text x="47.10" y="289.10" font-size="6.5" text-anchor="end" fill="#3c3c3c" stroke="#3c3c3c" stroke-width="0.22">600</text>
<line x1="51.30" y1="301.20" x2="54.30" y2="301.20" stroke="#111" stroke-width="0.9" />
<text x="47.10" y="303.50" font-size="6.5" text-anchor="end" fill="#3c3c3c" stroke="#3c3c3c" stroke-width="0.22">300</text>
<line x1="51.30" y1="315.50" x2="54.30" y2="315.50" stroke="#111" stroke-width="0.9" />
<text x="47.10" y="317.80" font-size="6.5" text-anchor="end" fill="#3c3c3c" stroke="#3c3c3c" stroke-width="0.22">0</text>
<line x1="52.70" y1="261.77" x2="54.30" y2="261.77" stroke="#111" stroke-width="0.6" />
<line x1="52.70" y1="265.35" x2="54.30" y2="265.35" stroke="#111" stroke-width="0.6" />
<line x1="52.70" y1="268.93" x2="54.30" y2="268.93" stroke="#111" stroke-width="0.6" />
<line x1="52.70" y1="276.07" x2="54.30" y2="276.07" stroke="#111" stroke-width="0.6" />
<line x1="52.70" y1="279.65" x2="54.30" y2="279.65" stroke="#111" stroke-width="0.6" />
<line x1="52.70" y1="283.23" x2="54.30" y2="283.23" stroke="#111" stroke-width="0.6" />
<line x1="52.70" y1="290.40" x2="54.30" y2="290.40" stroke="#111" stroke-width="0.6" />
<line x1="52.70" y1="294.00" x2="54.30" y2="294.00" stroke="#111" stroke-width="0.6" />
<line x1="52.70" y1="297.60" x2="54.30" y2="297.60" stroke="#111" stroke-width="0.6" />
<line x1="52.70" y1="304.77" x2="54.30" y2="304.77" stroke="#111" stroke-width="0.6" />
<line x1="52.70" y1="308.35" x2="54.30" y2="308.35" stroke="#111" stroke-width="0.6" />
<line x1="52.70" y1="311.93" x2="54.30" y2="311.93" stroke="#111" stroke-width="0.6" />
<line x1="58.50" y1="315.50" x2="58.50" y2="317.90" stroke="#111" stroke-width="0.9" />
<line x1="69.30" y1="315.50" x2="69.30" y2="317.90" stroke="#111" stroke-width="0.9" />
<line x1="80.00" y1="315.50" x2="80.00" y2="317.90" stroke="#111" stroke-width="0.9" />
<line x1="97.70" y1="315.50" x2="97.70" y2="317.90" stroke="#111" stroke-width="0.9" />
<line x1="114.10" y1="315.50" x2="114.10" y2="317.90" stroke="#111" stroke-width="0.9" />
<line x1="85.33" y1="315.50" x2="85.33" y2="316.90" stroke="#111" stroke-width="0.7" />
<line x1="88.45" y1="315.50" x2="88.45" y2="316.90" stroke="#111" stroke-width="0.7" />
<line x1="90.66" y1="315.50" x2="90.66" y2="316.90" stroke="#111" stroke-width="0.7" />
<line x1="92.37" y1="315.50" x2="92.37" y2="316.90" stroke="#111" stroke-width="0.7" />
<line x1="93.77" y1="315.50" x2="93.77" y2="316.90" stroke="#111" stroke-width="0.7" />
<line x1="94.96" y1="315.50" x2="94.96" y2="316.90" stroke="#111" stroke-width="0.7" />
<line x1="95.98" y1="315.50" x2="95.98" y2="316.90" stroke="#111" stroke-width="0.7" />
<line x1="96.89" y1="315.50" x2="96.89" y2="316.90" stroke="#111" stroke-width="0.7" />
<line x1="102.64" y1="315.50" x2="102.64" y2="316.90" stroke="#111" stroke-width="0.7" />
<line x1="105.52" y1="315.50" x2="105.52" y2="316.90" stroke="#111" stroke-width="0.7" />
<line x1="107.57" y1="315.50" x2="107.57" y2="316.90" stroke="#111" stroke-width="0.7" />
<line x1="109.16" y1="315.50" x2="109.16" y2="316.90" stroke="#111" stroke-width="0.7" />
<line x1="110.46" y1="315.50" x2="110.46" y2="316.90" stroke="#111" stroke-width="0.7" />
<line x1="111.56" y1="315.50" x2="111.56" y2="316.90" stroke="#111" stroke-width="0.7" />
<line x1="112.51" y1="315.50" x2="112.51" y2="316.90" stroke="#111" stroke-width="0.7" />
<line x1="113.35" y1="315.50" x2="113.35" y2="316.90" stroke="#111" stroke-width="0.7" />
<line x1="67.30" y1="316.00" x2="71.30" y2="316.00" stroke="#111" stroke-width="1.8" />
<text x="52.00" y="327.50" font-size="6.4" text-anchor="start" fill="#3c3c3c" stroke="#3c3c3c" stroke-width="0.22" textLength="10.5" lengthAdjust="spacingAndGlyphs">-10<tspan font-size="4.9" dy="-2.7">3</tspan></text>
<text x="69.90" y="327.50" font-size="6.4" text-anchor="middle" fill="#3c3c3c" stroke="#3c3c3c" stroke-width="0.22">0</text>
<text x="75.90" y="327.50" font-size="6.4" text-anchor="start" fill="#3c3c3c" stroke="#3c3c3c" stroke-width="0.22" textLength="8.0" lengthAdjust="spacingAndGlyphs">10<tspan font-size="4.9" dy="-2.7">3</tspan></text>
<text x="94.00" y="327.50" font-size="6.4" text-anchor="start" fill="#3c3c3c" stroke="#3c3c3c" stroke-width="0.22" textLength="8.0" lengthAdjust="spacingAndGlyphs">10<tspan font-size="4.9" dy="-2.7">4</tspan></text>
<text x="109.80" y="327.50" font-size="6.4" text-anchor="start" fill="#3c3c3c" stroke="#3c3c3c" stroke-width="0.22" textLength="8.2" lengthAdjust="spacingAndGlyphs">10<tspan font-size="4.9" dy="-2.7">5</tspan></text>
<text x="87.50" y="340.30" font-size="8.6" text-anchor="middle" fill="#3c3c3c" stroke="#3c3c3c" stroke-width="0.22" textLength="17.5" lengthAdjust="spacingAndGlyphs">CD19</text>
<line x1="73.10" y1="299.40" x2="120.70" y2="299.40" stroke="#555" stroke-width="0.9" />
<line x1="73.10" y1="297.60" x2="73.10" y2="301.20" stroke="#555" stroke-width="0.9" />
<line x1="120.70" y1="297.60" x2="120.70" y2="301.20" stroke="#555" stroke-width="0.9" />
<text x="96.20" y="296.00" font-size="7.2" text-anchor="middle" fill="#3c3c3c" stroke="#3c3c3c" stroke-width="0.22">20.7</text>
<text x="29.00" y="282.90" font-size="9.0" text-anchor="middle" fill="#3c3c3c" stroke="#3c3c3c" stroke-width="0.22" textLength="21.8" lengthAdjust="spacingAndGlyphs" transform="rotate(-90 29.00 282.90)">Counts</text>
<path d="M169.8 315.2L171.1 310L171.7 290L172.2 259.4L172.8 290L173.3 303L174.6 309.5Q176.2 313.3 178.3 313.3Q181 313 183.8 308Q186 304 187.8 304Q189.8 304.2 192.6 308.4Q195.6 312.8 200.2 315.2Z" fill="#1f4a84" stroke="#111" stroke-width="0.6" stroke-linejoin="round"/>
<rect x="157.50" y="249.60" width="65.90" height="65.60" fill="none" stroke="#111" stroke-width="1.0"/>
<line x1="154.50" y1="258.30" x2="157.50" y2="258.30" stroke="#111" stroke-width="0.9" />
<text x="150.30" y="260.60" font-size="6.5" text-anchor="end" fill="#3c3c3c" stroke="#3c3c3c" stroke-width="0.22">500</text>
<line x1="154.50" y1="269.70" x2="157.50" y2="269.70" stroke="#111" stroke-width="0.9" />
<text x="150.30" y="272.00" font-size="6.5" text-anchor="end" fill="#3c3c3c" stroke="#3c3c3c" stroke-width="0.22">400</text>
<line x1="154.50" y1="281.10" x2="157.50" y2="281.10" stroke="#111" stroke-width="0.9" />
<text x="150.30" y="283.40" font-size="6.5" text-anchor="end" fill="#3c3c3c" stroke="#3c3c3c" stroke-width="0.22">300</text>
<line x1="154.50" y1="292.40" x2="157.50" y2="292.40" stroke="#111" stroke-width="0.9" />
<text x="150.30" y="294.70" font-size="6.5" text-anchor="end" fill="#3c3c3c" stroke="#3c3c3c" stroke-width="0.22">200</text>
<line x1="154.50" y1="303.80" x2="157.50" y2="303.80" stroke="#111" stroke-width="0.9" />
<text x="150.30" y="306.10" font-size="6.5" text-anchor="end" fill="#3c3c3c" stroke="#3c3c3c" stroke-width="0.22">100</text>
<line x1="154.50" y1="315.20" x2="157.50" y2="315.20" stroke="#111" stroke-width="0.9" />
<text x="150.30" y="317.50" font-size="6.5" text-anchor="end" fill="#3c3c3c" stroke="#3c3c3c" stroke-width="0.22">0</text>
<line x1="155.90" y1="261.15" x2="157.50" y2="261.15" stroke="#111" stroke-width="0.6" />
<line x1="155.90" y1="264.00" x2="157.50" y2="264.00" stroke="#111" stroke-width="0.6" />
<line x1="155.90" y1="266.85" x2="157.50" y2="266.85" stroke="#111" stroke-width="0.6" />
<line x1="155.90" y1="272.55" x2="157.50" y2="272.55" stroke="#111" stroke-width="0.6" />
<line x1="155.90" y1="275.40" x2="157.50" y2="275.40" stroke="#111" stroke-width="0.6" />
<line x1="155.90" y1="278.25" x2="157.50" y2="278.25" stroke="#111" stroke-width="0.6" />
<line x1="155.90" y1="283.93" x2="157.50" y2="283.93" stroke="#111" stroke-width="0.6" />
<line x1="155.90" y1="286.75" x2="157.50" y2="286.75" stroke="#111" stroke-width="0.6" />
<line x1="155.90" y1="289.57" x2="157.50" y2="289.57" stroke="#111" stroke-width="0.6" />
<line x1="155.90" y1="295.25" x2="157.50" y2="295.25" stroke="#111" stroke-width="0.6" />
<line x1="155.90" y1="298.10" x2="157.50" y2="298.10" stroke="#111" stroke-width="0.6" />
<line x1="155.90" y1="300.95" x2="157.50" y2="300.95" stroke="#111" stroke-width="0.6" />
<line x1="155.90" y1="306.65" x2="157.50" y2="306.65" stroke="#111" stroke-width="0.6" />
<line x1="155.90" y1="309.50" x2="157.50" y2="309.50" stroke="#111" stroke-width="0.6" />
<line x1="155.90" y1="312.35" x2="157.50" y2="312.35" stroke="#111" stroke-width="0.6" />
<line x1="161.70" y1="315.20" x2="161.70" y2="317.60" stroke="#111" stroke-width="0.9" />
<line x1="172.50" y1="315.20" x2="172.50" y2="317.60" stroke="#111" stroke-width="0.9" />
<line x1="183.20" y1="315.20" x2="183.20" y2="317.60" stroke="#111" stroke-width="0.9" />
<line x1="200.90" y1="315.20" x2="200.90" y2="317.60" stroke="#111" stroke-width="0.9" />
<line x1="217.30" y1="315.20" x2="217.30" y2="317.60" stroke="#111" stroke-width="0.9" />
<line x1="188.53" y1="315.20" x2="188.53" y2="316.60" stroke="#111" stroke-width="0.7" />
<line x1="191.65" y1="315.20" x2="191.65" y2="316.60" stroke="#111" stroke-width="0.7" />
<line x1="193.86" y1="315.20" x2="193.86" y2="316.60" stroke="#111" stroke-width="0.7" />
<line x1="195.57" y1="315.20" x2="195.57" y2="316.60" stroke="#111" stroke-width="0.7" />
<line x1="196.97" y1="315.20" x2="196.97" y2="316.60" stroke="#111" stroke-width="0.7" />
<line x1="198.16" y1="315.20" x2="198.16" y2="316.60" stroke="#111" stroke-width="0.7" />
<line x1="199.18" y1="315.20" x2="199.18" y2="316.60" stroke="#111" stroke-width="0.7" />
<line x1="200.09" y1="315.20" x2="200.09" y2="316.60" stroke="#111" stroke-width="0.7" />
<line x1="205.84" y1="315.20" x2="205.84" y2="316.60" stroke="#111" stroke-width="0.7" />
<line x1="208.72" y1="315.20" x2="208.72" y2="316.60" stroke="#111" stroke-width="0.7" />
<line x1="210.77" y1="315.20" x2="210.77" y2="316.60" stroke="#111" stroke-width="0.7" />
<line x1="212.36" y1="315.20" x2="212.36" y2="316.60" stroke="#111" stroke-width="0.7" />
<line x1="213.66" y1="315.20" x2="213.66" y2="316.60" stroke="#111" stroke-width="0.7" />
<line x1="214.76" y1="315.20" x2="214.76" y2="316.60" stroke="#111" stroke-width="0.7" />
<line x1="215.71" y1="315.20" x2="215.71" y2="316.60" stroke="#111" stroke-width="0.7" />
<line x1="216.55" y1="315.20" x2="216.55" y2="316.60" stroke="#111" stroke-width="0.7" />
<line x1="170.50" y1="315.70" x2="174.50" y2="315.70" stroke="#111" stroke-width="1.8" />
<text x="155.20" y="327.20" font-size="6.4" text-anchor="start" fill="#3c3c3c" stroke="#3c3c3c" stroke-width="0.22" textLength="10.5" lengthAdjust="spacingAndGlyphs">-10<tspan font-size="4.9" dy="-2.7">3</tspan></text>
<text x="173.10" y="327.20" font-size="6.4" text-anchor="middle" fill="#3c3c3c" stroke="#3c3c3c" stroke-width="0.22">0</text>
<text x="179.10" y="327.20" font-size="6.4" text-anchor="start" fill="#3c3c3c" stroke="#3c3c3c" stroke-width="0.22" textLength="8.0" lengthAdjust="spacingAndGlyphs">10<tspan font-size="4.9" dy="-2.7">3</tspan></text>
<text x="197.20" y="327.20" font-size="6.4" text-anchor="start" fill="#3c3c3c" stroke="#3c3c3c" stroke-width="0.22" textLength="8.0" lengthAdjust="spacingAndGlyphs">10<tspan font-size="4.9" dy="-2.7">4</tspan></text>
<text x="213.00" y="327.20" font-size="6.4" text-anchor="start" fill="#3c3c3c" stroke="#3c3c3c" stroke-width="0.22" textLength="8.2" lengthAdjust="spacingAndGlyphs">10<tspan font-size="4.9" dy="-2.7">5</tspan></text>
<text x="190.45" y="340.00" font-size="8.6" text-anchor="middle" fill="#3c3c3c" stroke="#3c3c3c" stroke-width="0.22" textLength="30" lengthAdjust="spacingAndGlyphs">PL vesicle</text>
<line x1="177.20" y1="296.60" x2="223.40" y2="296.60" stroke="#555" stroke-width="0.9" />
<line x1="177.20" y1="294.80" x2="177.20" y2="298.40" stroke="#555" stroke-width="0.9" />
<line x1="223.40" y1="294.80" x2="223.40" y2="298.40" stroke="#555" stroke-width="0.9" />
<text x="200.30" y="293.20" font-size="7.2" text-anchor="middle" fill="#3c3c3c" stroke="#3c3c3c" stroke-width="0.22">53.7</text>
<text x="134.00" y="282.80" font-size="9.0" text-anchor="middle" fill="#3c3c3c" stroke="#3c3c3c" stroke-width="0.22" textLength="21.8" lengthAdjust="spacingAndGlyphs" transform="rotate(-90 134.00 282.80)">Counts</text>
<path d="M67.8 450.2L69.2 445L69.7 430L70.2 389L70.7 430L71.2 445L72.6 450.2Z M86.0 450.2Q88 447.5 89.3 445.8Q90.1 445.1 90.9 445.8Q92.4 447.5 94.6 450.2Z" fill="#a8142e" stroke="#111" stroke-width="0.6" stroke-linejoin="round"/>
<rect x="54.30" y="384.30" width="66.40" height="65.90" fill="none" stroke="#111" stroke-width="1.0"/>
<line x1="51.30" y1="392.00" x2="54.30" y2="392.00" stroke="#111" stroke-width="0.9" />
<text x="47.10" y="394.30" font-size="6.5" text-anchor="end" fill="#3c3c3c" stroke="#3c3c3c" stroke-width="0.22">5,0K</text>
<line x1="51.30" y1="403.50" x2="54.30" y2="403.50" stroke="#111" stroke-width="0.9" />
<text x="47.10" y="405.80" font-size="6.5" text-anchor="end" fill="#3c3c3c" stroke="#3c3c3c" stroke-width="0.22">4,0K</text>
<line x1="51.30" y1="415.00" x2="54.30" y2="415.00" stroke="#111" stroke-width="0.9" />
<text x="47.10" y="417.30" font-size="6.5" text-anchor="end" fill="#3c3c3c" stroke="#3c3c3c" stroke-width="0.22">3,0K</text>
<line x1="51.30" y1="426.70" x2="54.30" y2="426.70" stroke="#111" stroke-width="0.9" />
<text x="47.10" y="429.00" font-size="6.5" text-anchor="end" fill="#3c3c3c" stroke="#3c3c3c" stroke-width="0.22">2,0K</text>
<line x1="51.30" y1="438.30" x2="54.30" y2="438.30" stroke="#111" stroke-width="0.9" />
<text x="47.10" y="440.60" font-size="6.5" text-anchor="end" fill="#3c3c3c" stroke="#3c3c3c" stroke-width="0.22">1,0K</text>
<line x1="51.30" y1="450.20" x2="54.30" y2="450.20" stroke="#111" stroke-width="0.9" />
<text x="47.10" y="452.50" font-size="6.5" text-anchor="end" fill="#3c3c3c" stroke="#3c3c3c" stroke-width="0.22">0</text>
<line x1="52.70" y1="394.88" x2="54.30" y2="394.88" stroke="#111" stroke-width="0.6" />
<line x1="52.70" y1="397.75" x2="54.30" y2="397.75" stroke="#111" stroke-width="0.6" />
<line x1="52.70" y1="400.62" x2="54.30" y2="400.62" stroke="#111" stroke-width="0.6" />
<line x1="52.70" y1="406.38" x2="54.30" y2="406.38" stroke="#111" stroke-width="0.6" />
<line x1="52.70" y1="409.25" x2="54.30" y2="409.25" stroke="#111" stroke-width="0.6" />
<line x1="52.70" y1="412.12" x2="54.30" y2="412.12" stroke="#111" stroke-width="0.6" />
<line x1="52.70" y1="417.93" x2="54.30" y2="417.93" stroke="#111" stroke-width="0.6" />
<line x1="52.70" y1="420.85" x2="54.30" y2="420.85" stroke="#111" stroke-width="0.6" />
<line x1="52.70" y1="423.77" x2="54.30" y2="423.77" stroke="#111" stroke-width="0.6" />
<line x1="52.70" y1="429.60" x2="54.30" y2="429.60" stroke="#111" stroke-width="0.6" />
<line x1="52.70" y1="432.50" x2="54.30" y2="432.50" stroke="#111" stroke-width="0.6" />
<line x1="52.70" y1="435.40" x2="54.30" y2="435.40" stroke="#111" stroke-width="0.6" />
<line x1="52.70" y1="441.27" x2="54.30" y2="441.27" stroke="#111" stroke-width="0.6" />
<line x1="52.70" y1="444.25" x2="54.30" y2="444.25" stroke="#111" stroke-width="0.6" />
<line x1="52.70" y1="447.23" x2="54.30" y2="447.23" stroke="#111" stroke-width="0.6" />
<line x1="58.50" y1="450.20" x2="58.50" y2="452.60" stroke="#111" stroke-width="0.9" />
<line x1="69.30" y1="450.20" x2="69.30" y2="452.60" stroke="#111" stroke-width="0.9" />
<line x1="80.00" y1="450.20" x2="80.00" y2="452.60" stroke="#111" stroke-width="0.9" />
<line x1="97.70" y1="450.20" x2="97.70" y2="452.60" stroke="#111" stroke-width="0.9" />
<line x1="114.10" y1="450.20" x2="114.10" y2="452.60" stroke="#111" stroke-width="0.9" />
<line x1="85.33" y1="450.20" x2="85.33" y2="451.60" stroke="#111" stroke-width="0.7" />
<line x1="88.45" y1="450.20" x2="88.45" y2="451.60" stroke="#111" stroke-width="0.7" />
<line x1="90.66" y1="450.20" x2="90.66" y2="451.60" stroke="#111" stroke-width="0.7" />
<line x1="92.37" y1="450.20" x2="92.37" y2="451.60" stroke="#111" stroke-width="0.7" />
<line x1="93.77" y1="450.20" x2="93.77" y2="451.60" stroke="#111" stroke-width="0.7" />
<line x1="94.96" y1="450.20" x2="94.96" y2="451.60" stroke="#111" stroke-width="0.7" />
<line x1="95.98" y1="450.20" x2="95.98" y2="451.60" stroke="#111" stroke-width="0.7" />
<line x1="96.89" y1="450.20" x2="96.89" y2="451.60" stroke="#111" stroke-width="0.7" />
<line x1="102.64" y1="450.20" x2="102.64" y2="451.60" stroke="#111" stroke-width="0.7" />
<line x1="105.52" y1="450.20" x2="105.52" y2="451.60" stroke="#111" stroke-width="0.7" />
<line x1="107.57" y1="450.20" x2="107.57" y2="451.60" stroke="#111" stroke-width="0.7" />
<line x1="109.16" y1="450.20" x2="109.16" y2="451.60" stroke="#111" stroke-width="0.7" />
<line x1="110.46" y1="450.20" x2="110.46" y2="451.60" stroke="#111" stroke-width="0.7" />
<line x1="111.56" y1="450.20" x2="111.56" y2="451.60" stroke="#111" stroke-width="0.7" />
<line x1="112.51" y1="450.20" x2="112.51" y2="451.60" stroke="#111" stroke-width="0.7" />
<line x1="113.35" y1="450.20" x2="113.35" y2="451.60" stroke="#111" stroke-width="0.7" />
<line x1="67.30" y1="450.70" x2="71.30" y2="450.70" stroke="#111" stroke-width="1.8" />
<text x="52.00" y="462.20" font-size="6.4" text-anchor="start" fill="#3c3c3c" stroke="#3c3c3c" stroke-width="0.22" textLength="10.5" lengthAdjust="spacingAndGlyphs">-10<tspan font-size="4.9" dy="-2.7">3</tspan></text>
<text x="69.90" y="462.20" font-size="6.4" text-anchor="middle" fill="#3c3c3c" stroke="#3c3c3c" stroke-width="0.22">0</text>
<text x="75.90" y="462.20" font-size="6.4" text-anchor="start" fill="#3c3c3c" stroke="#3c3c3c" stroke-width="0.22" textLength="8.0" lengthAdjust="spacingAndGlyphs">10<tspan font-size="4.9" dy="-2.7">3</tspan></text>
<text x="94.00" y="462.20" font-size="6.4" text-anchor="start" fill="#3c3c3c" stroke="#3c3c3c" stroke-width="0.22" textLength="8.0" lengthAdjust="spacingAndGlyphs">10<tspan font-size="4.9" dy="-2.7">4</tspan></text>
<text x="109.80" y="462.20" font-size="6.4" text-anchor="start" fill="#3c3c3c" stroke="#3c3c3c" stroke-width="0.22" textLength="8.2" lengthAdjust="spacingAndGlyphs">10<tspan font-size="4.9" dy="-2.7">5</tspan></text>
<text x="87.50" y="475.00" font-size="8.6" text-anchor="middle" fill="#3c3c3c" stroke="#3c3c3c" stroke-width="0.22" textLength="17.5" lengthAdjust="spacingAndGlyphs">CD19</text>
<line x1="79.60" y1="434.50" x2="120.70" y2="434.50" stroke="#555" stroke-width="0.9" />
<line x1="79.60" y1="432.70" x2="79.60" y2="436.30" stroke="#555" stroke-width="0.9" />
<line x1="120.70" y1="432.70" x2="120.70" y2="436.30" stroke="#555" stroke-width="0.9" />
<text x="96.30" y="431.10" font-size="7.2" text-anchor="middle" fill="#3c3c3c" stroke="#3c3c3c" stroke-width="0.22">24.2</text>
<text x="29.00" y="417.65" font-size="9.0" text-anchor="middle" fill="#3c3c3c" stroke="#3c3c3c" stroke-width="0.22" textLength="21.8" lengthAdjust="spacingAndGlyphs" transform="rotate(-90 29.00 417.65)">Counts</text>
<path d="M170.2 449.7L171.4 444L171.9 425L172.3 389.6L172.7 425L173.2 444L174.6 449.7Z" fill="#a8142e" stroke="#111" stroke-width="0.6" stroke-linejoin="round"/>
<rect x="157.20" y="384.50" width="66.00" height="65.20" fill="none" stroke="#111" stroke-width="1.0"/>
<line x1="154.20" y1="386.30" x2="157.20" y2="386.30" stroke="#111" stroke-width="0.9" />
<text x="150.00" y="388.60" font-size="6.5" text-anchor="end" fill="#3c3c3c" stroke="#3c3c3c" stroke-width="0.22">2,0K</text>
<line x1="154.20" y1="402.30" x2="157.20" y2="402.30" stroke="#111" stroke-width="0.9" />
<text x="150.00" y="404.60" font-size="6.5" text-anchor="end" fill="#3c3c3c" stroke="#3c3c3c" stroke-width="0.22">1,5K</text>
<line x1="154.20" y1="418.20" x2="157.20" y2="418.20" stroke="#111" stroke-width="0.9" />
<text x="150.00" y="420.50" font-size="6.5" text-anchor="end" fill="#3c3c3c" stroke="#3c3c3c" stroke-width="0.22">1,0K</text>
<line x1="154.20" y1="434.10" x2="157.20" y2="434.10" stroke="#111" stroke-width="0.9" />
<text x="150.00" y="436.40" font-size="6.5" text-anchor="end" fill="#3c3c3c" stroke="#3c3c3c" stroke-width="0.22">500</text>
<line x1="154.20" y1="449.70" x2="157.20" y2="449.70" stroke="#111" stroke-width="0.9" />
<text x="150.00" y="452.00" font-size="6.5" text-anchor="end" fill="#3c3c3c" stroke="#3c3c3c" stroke-width="0.22">0</text>
<line x1="155.60" y1="390.30" x2="157.20" y2="390.30" stroke="#111" stroke-width="0.6" />
<line x1="155.60" y1="394.30" x2="157.20" y2="394.30" stroke="#111" stroke-width="0.6" />
<line x1="155.60" y1="398.30" x2="157.20" y2="398.30" stroke="#111" stroke-width="0.6" />
<line x1="155.60" y1="406.27" x2="157.20" y2="406.27" stroke="#111" stroke-width="0.6" />
<line x1="155.60" y1="410.25" x2="157.20" y2="410.25" stroke="#111" stroke-width="0.6" />
<line x1="155.60" y1="414.23" x2="157.20" y2="414.23" stroke="#111" stroke-width="0.6" />
<line x1="155.60" y1="422.18" x2="157.20" y2="422.18" stroke="#111" stroke-width="0.6" />
<line x1="155.60" y1="426.15" x2="157.20" y2="426.15" stroke="#111" stroke-width="0.6" />
<line x1="155.60" y1="430.12" x2="157.20" y2="430.12" stroke="#111" stroke-width="0.6" />
<line x1="155.60" y1="438.00" x2="157.20" y2="438.00" stroke="#111" stroke-width="0.6" />
<line x1="155.60" y1="441.90" x2="157.20" y2="441.90" stroke="#111" stroke-width="0.6" />
<line x1="155.60" y1="445.80" x2="157.20" y2="445.80" stroke="#111" stroke-width="0.6" />
<line x1="161.40" y1="449.70" x2="161.40" y2="452.10" stroke="#111" stroke-width="0.9" />
<line x1="172.20" y1="449.70" x2="172.20" y2="452.10" stroke="#111" stroke-width="0.9" />
<line x1="182.90" y1="449.70" x2="182.90" y2="452.10" stroke="#111" stroke-width="0.9" />
<line x1="200.60" y1="449.70" x2="200.60" y2="452.10" stroke="#111" stroke-width="0.9" />
<line x1="217.00" y1="449.70" x2="217.00" y2="452.10" stroke="#111" stroke-width="0.9" />
<line x1="188.23" y1="449.70" x2="188.23" y2="451.10" stroke="#111" stroke-width="0.7" />
<line x1="191.35" y1="449.70" x2="191.35" y2="451.10" stroke="#111" stroke-width="0.7" />
<line x1="193.56" y1="449.70" x2="193.56" y2="451.10" stroke="#111" stroke-width="0.7" />
<line x1="195.27" y1="449.70" x2="195.27" y2="451.10" stroke="#111" stroke-width="0.7" />
<line x1="196.67" y1="449.70" x2="196.67" y2="451.10" stroke="#111" stroke-width="0.7" />
<line x1="197.86" y1="449.70" x2="197.86" y2="451.10" stroke="#111" stroke-width="0.7" />
<line x1="198.88" y1="449.70" x2="198.88" y2="451.10" stroke="#111" stroke-width="0.7" />
<line x1="199.79" y1="449.70" x2="199.79" y2="451.10" stroke="#111" stroke-width="0.7" />
<line x1="205.54" y1="449.70" x2="205.54" y2="451.10" stroke="#111" stroke-width="0.7" />
<line x1="208.42" y1="449.70" x2="208.42" y2="451.10" stroke="#111" stroke-width="0.7" />
<line x1="210.47" y1="449.70" x2="210.47" y2="451.10" stroke="#111" stroke-width="0.7" />
<line x1="212.06" y1="449.70" x2="212.06" y2="451.10" stroke="#111" stroke-width="0.7" />
<line x1="213.36" y1="449.70" x2="213.36" y2="451.10" stroke="#111" stroke-width="0.7" />
<line x1="214.46" y1="449.70" x2="214.46" y2="451.10" stroke="#111" stroke-width="0.7" />
<line x1="215.41" y1="449.70" x2="215.41" y2="451.10" stroke="#111" stroke-width="0.7" />
<line x1="216.25" y1="449.70" x2="216.25" y2="451.10" stroke="#111" stroke-width="0.7" />
<line x1="170.20" y1="450.20" x2="174.20" y2="450.20" stroke="#111" stroke-width="1.8" />
<text x="154.90" y="461.70" font-size="6.4" text-anchor="start" fill="#3c3c3c" stroke="#3c3c3c" stroke-width="0.22" textLength="10.5" lengthAdjust="spacingAndGlyphs">-10<tspan font-size="4.9" dy="-2.7">3</tspan></text>
<text x="172.80" y="461.70" font-size="6.4" text-anchor="middle" fill="#3c3c3c" stroke="#3c3c3c" stroke-width="0.22">0</text>
<text x="178.80" y="461.70" font-size="6.4" text-anchor="start" fill="#3c3c3c" stroke="#3c3c3c" stroke-width="0.22" textLength="8.0" lengthAdjust="spacingAndGlyphs">10<tspan font-size="4.9" dy="-2.7">3</tspan></text>
<text x="196.90" y="461.70" font-size="6.4" text-anchor="start" fill="#3c3c3c" stroke="#3c3c3c" stroke-width="0.22" textLength="8.0" lengthAdjust="spacingAndGlyphs">10<tspan font-size="4.9" dy="-2.7">4</tspan></text>
<text x="212.70" y="461.70" font-size="6.4" text-anchor="start" fill="#3c3c3c" stroke="#3c3c3c" stroke-width="0.22" textLength="8.2" lengthAdjust="spacingAndGlyphs">10<tspan font-size="4.9" dy="-2.7">5</tspan></text>
<text x="190.20" y="474.50" font-size="8.6" text-anchor="middle" fill="#3c3c3c" stroke="#3c3c3c" stroke-width="0.22" textLength="30" lengthAdjust="spacingAndGlyphs">PL vesicle</text>
<line x1="177.40" y1="431.30" x2="223.20" y2="431.30" stroke="#555" stroke-width="0.9" />
<line x1="177.40" y1="429.50" x2="177.40" y2="433.10" stroke="#555" stroke-width="0.9" />
<line x1="223.20" y1="429.50" x2="223.20" y2="433.10" stroke="#555" stroke-width="0.9" />
<text x="200.30" y="427.90" font-size="7.2" text-anchor="middle" fill="#3c3c3c" stroke="#3c3c3c" stroke-width="0.22">0.02</text>
<text x="132.50" y="417.50" font-size="9.0" text-anchor="middle" fill="#3c3c3c" stroke="#3c3c3c" stroke-width="0.22" textLength="21.8" lengthAdjust="spacingAndGlyphs" transform="rotate(-90 132.50 417.50)">Counts</text>
<text x="16.60" y="282.40" font-size="10.5" text-anchor="middle" fill="#3c3c3c" stroke="#3c3c3c" stroke-width="0.22" textLength="25.2" lengthAdjust="spacingAndGlyphs" transform="rotate(-90 16.60 282.40)">saline</text>
<text x="16.10" y="417.00" font-size="10.8" text-anchor="middle" fill="#3c3c3c" stroke="#3c3c3c" stroke-width="0.22" textLength="30.5" lengthAdjust="spacingAndGlyphs" transform="rotate(-90 16.10 417.00)">NAPc2</text>
<text x="199.20" y="240.20" font-size="9.0" text-anchor="middle" fill="#3c3c3c" stroke="#3c3c3c" stroke-width="0.22" textLength="51" lengthAdjust="spacingAndGlyphs">Blood B cells</text>
<line x1="224.00" y1="302.60" x2="258.00" y2="302.60" stroke="#2a9fd8" stroke-width="1.8" />
<path d="M261.00 302.60L253.50 305.60L256.12 302.60L253.50 299.60Z" fill="#2a9fd8"/>
<line x1="225.80" y1="309.80" x2="253.52" y2="368.78" stroke="#2a9fd8" stroke-width="1.8" />
<path d="M254.80 371.50L248.89 365.99L252.73 367.09L254.32 363.44Z" fill="#2a9fd8"/>
<line x1="225.00" y1="317.00" x2="258.91" y2="485.06" stroke="#2a9fd8" stroke-width="1.8" />
<path d="M259.50 488.00L255.08 481.24L258.54 483.22L260.96 480.05Z" fill="#2a9fd8"/>
<ellipse cx="292.3" cy="268.5" rx="5.5" ry="4.8" fill="#b8c0e6" opacity="0.7" transform="rotate(0 292.3 268.5)" filter="url(#b2)"/>
<ellipse cx="292.8" cy="277.5" rx="2.2" ry="6.5" fill="#c0c8ec" opacity="0.6" transform="rotate(0 292.8 277.5)" filter="url(#b2)"/>
<ellipse cx="292.0" cy="268.0" rx="3.8" ry="3.0" fill="#7486c8" opacity="0.65" transform="rotate(0 292.0 268.0)" filter="url(#b1)"/>
<ellipse cx="292.4" cy="271.0" rx="1.9" ry="3.6" fill="#7f8c50" opacity="0.55" transform="rotate(0 292.4 271.0)" filter="url(#b1)"/>
<ellipse cx="329.5" cy="271.8" rx="12.0" ry="5.8" fill="#bcc5ea" opacity="0.75" transform="rotate(0 329.5 271.8)" filter="url(#b2)"/>
<ellipse cx="331.0" cy="271.8" rx="9.0" ry="4.0" fill="#6a80c6" opacity="0.65" transform="rotate(0 331.0 271.8)" filter="url(#b1)"/>
<ellipse cx="332.0" cy="271.6" rx="6.0" ry="2.9" fill="#8cc63f" opacity="0.9" transform="rotate(-5 332.0 271.6)" filter="url(#b1)"/>
<ellipse cx="315.5" cy="270.5" rx="4.0" ry="2.8" fill="#a4aee0" opacity="0.5" transform="rotate(0 315.5 270.5)" filter="url(#b2)"/>
<path d="M292.6 271.3h.9v.9h-.9zM289.5 270.6h.9v.9h-.9zM298.0 268.4h.9v.9h-.9zM295.7 267.9h.9v.9h-.9zM294.1 265.5h.9v.9h-.9zM288.3 264.1h.9v.9h-.9zM287.4 267.4h.9v.9h-.9zM292.5 264.5h.9v.9h-.9zM294.6 265.8h.9v.9h-.9zM291.1 262.8h.9v.9h-.9zM290.8 262.3h.9v.9h-.9zM288.0 270.9h.9v.9h-.9zM285.7 270.1h.9v.9h-.9zM289.9 270.8h.9v.9h-.9zM286.7 265.2h.9v.9h-.9zM289.4 262.6h.9v.9h-.9zM298.0 261.7h.9v.9h-.9zM297.3 262.8h.9v.9h-.9zM295.5 266.1h.9v.9h-.9zM294.2 265.0h.9v.9h-.9zM297.8 261.7h.9v.9h-.9zM296.9 270.5h.9v.9h-.9zM290.9 272.3h.9v.9h-.9zM298.5 263.0h.9v.9h-.9zM281.5 267.7h.9v.9h-.9zM298.1 269.4h.9v.9h-.9zM289.3 274.0h.9v.9h-.9zM288.8 268.8h.9v.9h-.9zM289.8 265.3h.9v.9h-.9zM288.4 266.7h.9v.9h-.9zM295.6 266.9h.9v.9h-.9zM288.0 269.7h.9v.9h-.9zM295.9 267.6h.9v.9h-.9zM288.9 269.7h.9v.9h-.9zM296.4 268.5h.9v.9h-.9zM290.0 265.9h.9v.9h-.9zM291.0 263.9h.9v.9h-.9zM288.8 262.0h.9v.9h-.9zM292.3 270.9h.9v.9h-.9zM289.6 270.6h.9v.9h-.9zM287.9 266.2h.9v.9h-.9zM290.0 271.2h.9v.9h-.9zM294.3 263.3h.9v.9h-.9zM293.8 264.5h.9v.9h-.9zM299.5 268.2h.9v.9h-.9zM298.7 262.8h.9v.9h-.9zM285.6 270.6h.9v.9h-.9zM292.1 263.1h.9v.9h-.9zM290.4 265.3h.9v.9h-.9zM296.1 265.7h.9v.9h-.9zM298.0 265.5h.9v.9h-.9zM295.5 266.0h.9v.9h-.9zM297.2 268.4h.9v.9h-.9zM290.4 265.3h.9v.9h-.9zM286.2 271.2h.9v.9h-.9zM292.6 284.0h.9v.9h-.9zM290.4 277.0h.9v.9h-.9zM290.3 274.4h.9v.9h-.9zM293.7 282.2h.9v.9h-.9zM294.7 272.6h.9v.9h-.9zM290.8 270.2h.9v.9h-.9zM292.4 280.9h.9v.9h-.9zM291.3 278.1h.9v.9h-.9zM295.1 274.8h.9v.9h-.9zM293.9 278.4h.9v.9h-.9zM291.5 280.6h.9v.9h-.9zM293.8 279.6h.9v.9h-.9zM291.4 279.9h.9v.9h-.9zM293.2 270.7h.9v.9h-.9zM290.6 276.2h.9v.9h-.9zM290.8 278.9h.9v.9h-.9zM290.6 274.6h.9v.9h-.9zM290.2 279.7h.9v.9h-.9zM294.4 271.8h.9v.9h-.9zM292.5 280.5h.9v.9h-.9zM294.3 281.1h.9v.9h-.9zM291.2 268.9h.9v.9h-.9zM293.1 270.3h.9v.9h-.9zM292.4 270.9h.9v.9h-.9zM294.0 279.2h.9v.9h-.9zM295.1 277.1h.9v.9h-.9zM294.4 281.3h.9v.9h-.9zM291.5 269.3h.9v.9h-.9zM294.2 274.4h.9v.9h-.9zM329.0 267.9h.9v.9h-.9zM327.9 264.5h.9v.9h-.9zM315.0 269.3h.9v.9h-.9zM328.0 275.7h.9v.9h-.9zM335.7 273.3h.9v.9h-.9zM323.4 266.8h.9v.9h-.9zM323.8 268.3h.9v.9h-.9zM317.3 271.9h.9v.9h-.9zM338.3 274.3h.9v.9h-.9zM335.8 269.7h.9v.9h-.9zM316.8 273.2h.9v.9h-.9zM331.1 275.3h.9v.9h-.9zM321.3 264.6h.9v.9h-.9zM324.7 276.0h.9v.9h-.9zM315.4 274.6h.9v.9h-.9zM322.3 276.2h.9v.9h-.9zM342.3 278.7h.9v.9h-.9zM317.9 272.0h.9v.9h-.9zM314.1 272.6h.9v.9h-.9zM332.2 268.1h.9v.9h-.9zM316.1 272.1h.9v.9h-.9zM326.0 263.9h.9v.9h-.9zM329.1 276.2h.9v.9h-.9zM319.4 264.7h.9v.9h-.9zM332.5 275.8h.9v.9h-.9zM338.1 266.5h.9v.9h-.9zM327.5 277.5h.9v.9h-.9zM339.9 274.6h.9v.9h-.9zM318.1 269.3h.9v.9h-.9zM320.0 272.8h.9v.9h-.9zM330.5 275.4h.9v.9h-.9zM326.3 275.9h.9v.9h-.9zM339.9 275.6h.9v.9h-.9zM329.8 266.5h.9v.9h-.9zM324.8 275.8h.9v.9h-.9zM320.3 267.0h.9v.9h-.9zM326.8 276.5h.9v.9h-.9zM338.9 270.4h.9v.9h-.9zM325.7 267.1h.9v.9h-.9zM321.5 268.1h.9v.9h-.9zM334.8 277.2h.9v.9h-.9zM322.1 275.7h.9v.9h-.9zM320.2 269.3h.9v.9h-.9zM323.0 268.8h.9v.9h-.9zM338.8 273.5h.9v.9h-.9zM328.3 267.7h.9v.9h-.9zM315.5 270.2h.9v.9h-.9zM319.2 276.1h.9v.9h-.9zM330.2 266.7h.9v.9h-.9zM317.3 274.0h.9v.9h-.9zM333.0 266.9h.9v.9h-.9zM318.4 270.8h.9v.9h-.9zM333.2 265.5h.9v.9h-.9zM318.6 270.2h.9v.9h-.9zM314.2 265.4h.9v.9h-.9zM333.5 268.8h.9v.9h-.9zM318.3 268.6h.9v.9h-.9zM340.9 271.6h.9v.9h-.9zM323.4 268.5h.9v.9h-.9zM319.8 271.0h.9v.9h-.9zM331.2 275.0h.9v.9h-.9zM336.6 272.3h.9v.9h-.9zM310.6 268.4h.9v.9h-.9zM330.8 267.5h.9v.9h-.9zM311.2 269.8h.9v.9h-.9zM321.3 276.9h.9v.9h-.9zM334.4 268.3h.9v.9h-.9zM338.7 269.4h.9v.9h-.9zM334.1 265.0h.9v.9h-.9zM328.4 268.0h.9v.9h-.9zM332.7 274.5h.9v.9h-.9zM325.1 268.0h.9v.9h-.9zM318.4 273.5h.9v.9h-.9zM325.2 274.7h.9v.9h-.9zM334.8 277.3h.9v.9h-.9zM321.7 274.2h.9v.9h-.9zM332.3 274.5h.9v.9h-.9zM347.2 272.8h.9v.9h-.9zM330.0 268.2h.9v.9h-.9zM332.2 267.6h.9v.9h-.9zM319.8 264.3h.9v.9h-.9zM338.3 273.0h.9v.9h-.9zM336.4 270.9h.9v.9h-.9zM333.5 265.2h.9v.9h-.9zM324.5 275.4h.9v.9h-.9zM324.1 277.1h.9v.9h-.9zM322.3 275.4h.9v.9h-.9zM327.2 266.6h.9v.9h-.9zM332.9 268.2h.9v.9h-.9zM329.6 268.1h.9v.9h-.9zM326.1 267.5h.9v.9h-.9zM315.6 272.5h.9v.9h-.9zM329.2 277.3h.9v.9h-.9zM318.4 266.7h.9v.9h-.9zM337.7 268.6h.9v.9h-.9zM337.5 273.6h.9v.9h-.9zM334.2 275.0h.9v.9h-.9zM330.5 279.3h.9v.9h-.9zM329.8 275.3h.9v.9h-.9zM316.6 274.0h.9v.9h-.9zM308.0 267.8h.9v.9h-.9zM327.9 272.2h.9v.9h-.9zM318.3 277.0h.9v.9h-.9zM319.8 272.7h.9v.9h-.9zM316.6 276.6h.9v.9h-.9zM309.6 268.1h.9v.9h-.9zM315.7 264.9h.9v.9h-.9zM311.1 274.4h.9v.9h-.9zM318.4 267.5h.9v.9h-.9zM309.6 270.2h.9v.9h-.9zM311.7 273.8h.9v.9h-.9zM320.7 272.7h.9v.9h-.9zM310.9 267.7h.9v.9h-.9zM322.3 269.0h.9v.9h-.9zM325.4 264.8h.9v.9h-.9zM306.2 266.5h.9v.9h-.9zM325.2 268.9h.9v.9h-.9zM320.5 269.9h.9v.9h-.9zM326.2 270.9h.9v.9h-.9zM312.0 277.8h.9v.9h-.9zM307.9 270.5h.9v.9h-.9zM323.0 272.3h.9v.9h-.9zM310.4 275.1h.9v.9h-.9z" fill="#8a9ad8" opacity="0.3"/>
<path d="M291.5 267.3h.9v.9h-.9zM292.2 269.9h.9v.9h-.9zM291.2 266.9h.9v.9h-.9zM291.8 267.2h.9v.9h-.9zM292.1 268.6h.9v.9h-.9zM293.3 267.2h.9v.9h-.9zM293.7 269.4h.9v.9h-.9zM295.4 267.4h.9v.9h-.9zM290.5 266.4h.9v.9h-.9zM289.3 267.9h.9v.9h-.9zM291.5 266.6h.9v.9h-.9zM291.8 266.3h.9v.9h-.9zM292.1 268.9h.9v.9h-.9zM290.8 268.8h.9v.9h-.9zM292.9 267.4h.9v.9h-.9zM291.6 267.5h.9v.9h-.9zM291.8 265.7h.9v.9h-.9zM291.9 269.0h.9v.9h-.9zM291.7 267.6h.9v.9h-.9zM293.3 270.5h.9v.9h-.9zM291.0 267.0h.9v.9h-.9zM294.6 266.5h.9v.9h-.9zM292.5 270.2h.9v.9h-.9zM291.9 267.9h.9v.9h-.9zM291.6 267.3h.9v.9h-.9zM291.1 265.8h.9v.9h-.9zM293.4 268.1h.9v.9h-.9zM290.1 266.7h.9v.9h-.9zM290.6 269.7h.9v.9h-.9zM291.4 270.4h.9v.9h-.9zM292.4 267.4h.9v.9h-.9zM291.5 269.7h.9v.9h-.9zM293.0 266.2h.9v.9h-.9zM293.5 270.6h.9v.9h-.9zM291.9 266.9h.9v.9h-.9zM291.1 270.1h.9v.9h-.9zM293.9 265.6h.9v.9h-.9zM293.4 266.8h.9v.9h-.9zM294.8 266.1h.9v.9h-.9zM292.5 269.3h.9v.9h-.9zM290.4 267.7h.9v.9h-.9zM293.3 269.9h.9v.9h-.9zM293.3 265.8h.9v.9h-.9zM294.0 269.6h.9v.9h-.9zM292.9 266.0h.9v.9h-.9zM290.5 270.2h.9v.9h-.9zM289.6 269.3h.9v.9h-.9zM293.8 267.3h.9v.9h-.9zM294.2 267.2h.9v.9h-.9zM291.6 270.3h.9v.9h-.9zM292.5 269.0h.9v.9h-.9zM290.2 266.9h.9v.9h-.9zM292.6 267.3h.9v.9h-.9zM293.5 269.9h.9v.9h-.9zM290.2 266.5h.9v.9h-.9zM292.1 278.1h.9v.9h-.9zM292.7 275.6h.9v.9h-.9zM293.6 277.0h.9v.9h-.9zM292.6 275.8h.9v.9h-.9zM293.2 276.7h.9v.9h-.9zM292.9 277.1h.9v.9h-.9zM292.1 279.2h.9v.9h-.9zM291.5 274.0h.9v.9h-.9zM293.0 279.3h.9v.9h-.9zM292.3 272.2h.9v.9h-.9zM293.3 277.2h.9v.9h-.9zM292.9 272.2h.9v.9h-.9zM291.5 277.6h.9v.9h-.9zM291.7 276.7h.9v.9h-.9zM293.8 277.8h.9v.9h-.9zM293.8 274.5h.9v.9h-.9zM293.3 276.1h.9v.9h-.9zM292.7 274.8h.9v.9h-.9zM293.1 277.0h.9v.9h-.9zM293.2 274.3h.9v.9h-.9zM292.7 275.0h.9v.9h-.9zM327.2 270.1h.9v.9h-.9zM334.2 272.5h.9v.9h-.9zM328.2 273.4h.9v.9h-.9zM328.2 268.5h.9v.9h-.9zM322.9 273.7h.9v.9h-.9zM323.4 274.0h.9v.9h-.9zM335.6 271.0h.9v.9h-.9zM327.9 269.7h.9v.9h-.9zM331.4 270.5h.9v.9h-.9zM330.3 273.7h.9v.9h-.9zM325.8 273.5h.9v.9h-.9zM322.9 270.3h.9v.9h-.9zM328.3 272.1h.9v.9h-.9zM320.7 271.9h.9v.9h-.9zM331.3 274.0h.9v.9h-.9zM332.7 269.1h.9v.9h-.9zM322.7 271.9h.9v.9h-.9zM331.4 269.7h.9v.9h-.9zM330.1 273.7h.9v.9h-.9zM324.9 274.4h.9v.9h-.9zM327.6 270.2h.9v.9h-.9zM326.2 274.2h.9v.9h-.9zM334.8 271.6h.9v.9h-.9zM335.2 270.7h.9v.9h-.9zM324.4 271.1h.9v.9h-.9zM330.8 270.8h.9v.9h-.9zM334.8 270.5h.9v.9h-.9zM324.4 271.2h.9v.9h-.9zM321.0 271.6h.9v.9h-.9zM323.7 270.7h.9v.9h-.9zM325.8 270.2h.9v.9h-.9zM331.8 270.8h.9v.9h-.9zM326.2 273.2h.9v.9h-.9zM327.5 268.7h.9v.9h-.9zM327.3 274.4h.9v.9h-.9zM329.5 270.9h.9v.9h-.9zM322.4 271.4h.9v.9h-.9zM328.8 268.7h.9v.9h-.9zM324.2 274.1h.9v.9h-.9zM332.5 273.0h.9v.9h-.9zM331.0 272.4h.9v.9h-.9zM329.9 273.3h.9v.9h-.9zM324.5 270.6h.9v.9h-.9zM324.0 272.7h.9v.9h-.9zM329.7 273.7h.9v.9h-.9zM328.4 270.8h.9v.9h-.9zM335.0 270.6h.9v.9h-.9zM325.5 269.2h.9v.9h-.9zM323.1 268.9h.9v.9h-.9zM331.2 270.5h.9v.9h-.9zM334.7 272.4h.9v.9h-.9zM328.3 272.7h.9v.9h-.9zM326.6 270.0h.9v.9h-.9zM327.6 268.8h.9v.9h-.9zM333.2 269.0h.9v.9h-.9zM329.7 272.1h.9v.9h-.9zM332.4 272.4h.9v.9h-.9zM328.3 268.5h.9v.9h-.9zM326.6 268.7h.9v.9h-.9zM323.6 270.3h.9v.9h-.9zM333.1 271.5h.9v.9h-.9zM328.9 269.9h.9v.9h-.9zM323.2 272.0h.9v.9h-.9zM329.2 273.3h.9v.9h-.9zM324.3 272.5h.9v.9h-.9zM331.6 271.7h.9v.9h-.9zM329.5 271.7h.9v.9h-.9zM320.7 272.5h.9v.9h-.9zM327.3 270.6h.9v.9h-.9zM321.8 273.2h.9v.9h-.9zM328.6 272.8h.9v.9h-.9zM323.6 271.8h.9v.9h-.9zM323.0 269.6h.9v.9h-.9zM329.7 272.2h.9v.9h-.9zM327.2 269.1h.9v.9h-.9zM333.8 270.5h.9v.9h-.9zM328.0 273.9h.9v.9h-.9zM326.1 272.6h.9v.9h-.9zM327.5 271.4h.9v.9h-.9zM331.2 271.7h.9v.9h-.9zM329.0 272.2h.9v.9h-.9zM332.1 270.3h.9v.9h-.9zM329.8 271.2h.9v.9h-.9zM331.0 271.1h.9v.9h-.9zM333.6 273.5h.9v.9h-.9zM332.2 270.7h.9v.9h-.9zM334.3 270.2h.9v.9h-.9zM323.3 272.6h.9v.9h-.9zM327.4 273.3h.9v.9h-.9zM326.2 268.6h.9v.9h-.9zM323.7 271.6h.9v.9h-.9zM327.6 270.9h.9v.9h-.9zM326.5 270.3h.9v.9h-.9zM333.7 269.1h.9v.9h-.9zM324.4 274.0h.9v.9h-.9zM334.8 272.8h.9v.9h-.9zM331.4 271.1h.9v.9h-.9zM324.7 270.9h.9v.9h-.9zM328.1 272.4h.9v.9h-.9zM327.0 271.3h.9v.9h-.9zM311.9 270.6h.9v.9h-.9zM315.9 272.1h.9v.9h-.9zM316.1 269.7h.9v.9h-.9zM312.7 271.5h.9v.9h-.9zM316.3 269.1h.9v.9h-.9zM314.7 269.8h.9v.9h-.9zM314.5 267.9h.9v.9h-.9zM316.0 273.7h.9v.9h-.9zM319.5 270.9h.9v.9h-.9zM313.1 271.5h.9v.9h-.9zM315.6 272.8h.9v.9h-.9zM309.9 270.3h.9v.9h-.9zM315.8 268.0h.9v.9h-.9zM315.9 272.2h.9v.9h-.9zM314.3 268.5h.9v.9h-.9zM314.1 274.2h.9v.9h-.9zM314.9 268.5h.9v.9h-.9z" fill="#4f72c0" opacity="0.45"/>
<rect x="278.00" y="249.80" width="66.00" height="65.30" fill="none" stroke="#111" stroke-width="1.0"/>
<line x1="303.10" y1="249.80" x2="303.10" y2="315.10" stroke="#333" stroke-width="0.9" />
<line x1="278.00" y1="289.20" x2="344.00" y2="289.20" stroke="#333" stroke-width="0.9" />
<line x1="275.00" y1="256.00" x2="278.00" y2="256.00" stroke="#111" stroke-width="1.0" />
<text x="261.80" y="258.10" font-size="6.4" text-anchor="start" fill="#3c3c3c" stroke="#3c3c3c" stroke-width="0.22" textLength="8.0" lengthAdjust="spacingAndGlyphs">10<tspan font-size="4.9" dy="-2.7">5</tspan></text>
<line x1="275.00" y1="271.70" x2="278.00" y2="271.70" stroke="#111" stroke-width="1.0" />
<text x="261.80" y="273.80" font-size="6.4" text-anchor="start" fill="#3c3c3c" stroke="#3c3c3c" stroke-width="0.22" textLength="8.0" lengthAdjust="spacingAndGlyphs">10<tspan font-size="4.9" dy="-2.7">4</tspan></text>
<line x1="275.00" y1="289.40" x2="278.00" y2="289.40" stroke="#111" stroke-width="1.0" />
<text x="261.80" y="291.50" font-size="6.4" text-anchor="start" fill="#3c3c3c" stroke="#3c3c3c" stroke-width="0.22" textLength="8.0" lengthAdjust="spacingAndGlyphs">10<tspan font-size="4.9" dy="-2.7">3</tspan></text>
<line x1="275.00" y1="300.10" x2="278.00" y2="300.10" stroke="#111" stroke-width="1.0" />
<text x="270.40" y="302.20" font-size="6.4" text-anchor="end" fill="#3c3c3c" stroke="#3c3c3c" stroke-width="0.22">0</text>
<line x1="275.00" y1="310.80" x2="278.00" y2="310.80" stroke="#111" stroke-width="1.0" />
<text x="259.30" y="312.90" font-size="6.4" text-anchor="start" fill="#3c3c3c" stroke="#3c3c3c" stroke-width="0.22" textLength="10.5" lengthAdjust="spacingAndGlyphs">-10<tspan font-size="4.9" dy="-2.7">3</tspan></text>
<line x1="276.60" y1="266.97" x2="278.00" y2="266.97" stroke="#111" stroke-width="0.6" />
<line x1="276.60" y1="264.21" x2="278.00" y2="264.21" stroke="#111" stroke-width="0.6" />
<line x1="276.60" y1="262.25" x2="278.00" y2="262.25" stroke="#111" stroke-width="0.6" />
<line x1="276.60" y1="260.73" x2="278.00" y2="260.73" stroke="#111" stroke-width="0.6" />
<line x1="276.60" y1="259.48" x2="278.00" y2="259.48" stroke="#111" stroke-width="0.6" />
<line x1="276.60" y1="258.43" x2="278.00" y2="258.43" stroke="#111" stroke-width="0.6" />
<line x1="276.60" y1="257.52" x2="278.00" y2="257.52" stroke="#111" stroke-width="0.6" />
<line x1="276.60" y1="256.72" x2="278.00" y2="256.72" stroke="#111" stroke-width="0.6" />
<line x1="276.60" y1="284.07" x2="278.00" y2="284.07" stroke="#111" stroke-width="0.6" />
<line x1="276.60" y1="280.95" x2="278.00" y2="280.95" stroke="#111" stroke-width="0.6" />
<line x1="276.60" y1="278.74" x2="278.00" y2="278.74" stroke="#111" stroke-width="0.6" />
<line x1="276.60" y1="277.03" x2="278.00" y2="277.03" stroke="#111" stroke-width="0.6" />
<line x1="276.60" y1="275.63" x2="278.00" y2="275.63" stroke="#111" stroke-width="0.6" />
<line x1="276.60" y1="274.44" x2="278.00" y2="274.44" stroke="#111" stroke-width="0.6" />
<line x1="276.60" y1="273.42" x2="278.00" y2="273.42" stroke="#111" stroke-width="0.6" />
<line x1="276.60" y1="272.51" x2="278.00" y2="272.51" stroke="#111" stroke-width="0.6" />
<rect x="276.00" y="298.30" width="2.00" height="3.20" fill="#111" />
<line x1="282.20" y1="315.10" x2="282.20" y2="317.50" stroke="#111" stroke-width="0.9" />
<line x1="293.00" y1="315.10" x2="293.00" y2="317.50" stroke="#111" stroke-width="0.9" />
<line x1="303.70" y1="315.10" x2="303.70" y2="317.50" stroke="#111" stroke-width="0.9" />
<line x1="321.40" y1="315.10" x2="321.40" y2="317.50" stroke="#111" stroke-width="0.9" />
<line x1="337.80" y1="315.10" x2="337.80" y2="317.50" stroke="#111" stroke-width="0.9" />
<line x1="309.03" y1="315.10" x2="309.03" y2="316.50" stroke="#111" stroke-width="0.7" />
<line x1="312.15" y1="315.10" x2="312.15" y2="316.50" stroke="#111" stroke-width="0.7" />
<line x1="314.36" y1="315.10" x2="314.36" y2="316.50" stroke="#111" stroke-width="0.7" />
<line x1="316.07" y1="315.10" x2="316.07" y2="316.50" stroke="#111" stroke-width="0.7" />
<line x1="317.47" y1="315.10" x2="317.47" y2="316.50" stroke="#111" stroke-width="0.7" />
<line x1="318.66" y1="315.10" x2="318.66" y2="316.50" stroke="#111" stroke-width="0.7" />
<line x1="319.68" y1="315.10" x2="319.68" y2="316.50" stroke="#111" stroke-width="0.7" />
<line x1="320.59" y1="315.10" x2="320.59" y2="316.50" stroke="#111" stroke-width="0.7" />
<line x1="326.34" y1="315.10" x2="326.34" y2="316.50" stroke="#111" stroke-width="0.7" />
<line x1="329.22" y1="315.10" x2="329.22" y2="316.50" stroke="#111" stroke-width="0.7" />
<line x1="331.27" y1="315.10" x2="331.27" y2="316.50" stroke="#111" stroke-width="0.7" />
<line x1="332.86" y1="315.10" x2="332.86" y2="316.50" stroke="#111" stroke-width="0.7" />
<line x1="334.16" y1="315.10" x2="334.16" y2="316.50" stroke="#111" stroke-width="0.7" />
<line x1="335.26" y1="315.10" x2="335.26" y2="316.50" stroke="#111" stroke-width="0.7" />
<line x1="336.21" y1="315.10" x2="336.21" y2="316.50" stroke="#111" stroke-width="0.7" />
<line x1="337.05" y1="315.10" x2="337.05" y2="316.50" stroke="#111" stroke-width="0.7" />
<rect x="291.50" y="315.10" width="3.00" height="2.00" fill="#111" />
<text x="275.70" y="327.10" font-size="6.4" text-anchor="start" fill="#3c3c3c" stroke="#3c3c3c" stroke-width="0.22" textLength="10.5" lengthAdjust="spacingAndGlyphs">-10<tspan font-size="4.9" dy="-2.7">3</tspan></text>
<text x="293.60" y="327.10" font-size="6.4" text-anchor="middle" fill="#3c3c3c" stroke="#3c3c3c" stroke-width="0.22">0</text>
<text x="299.60" y="327.10" font-size="6.4" text-anchor="start" fill="#3c3c3c" stroke="#3c3c3c" stroke-width="0.22" textLength="8.0" lengthAdjust="spacingAndGlyphs">10<tspan font-size="4.9" dy="-2.7">3</tspan></text>
<text x="317.70" y="327.10" font-size="6.4" text-anchor="start" fill="#3c3c3c" stroke="#3c3c3c" stroke-width="0.22" textLength="8.0" lengthAdjust="spacingAndGlyphs">10<tspan font-size="4.9" dy="-2.7">4</tspan></text>
<text x="333.50" y="327.10" font-size="6.4" text-anchor="start" fill="#3c3c3c" stroke="#3c3c3c" stroke-width="0.22" textLength="8.2" lengthAdjust="spacingAndGlyphs">10<tspan font-size="4.9" dy="-2.7">5</tspan></text>
<text x="311.20" y="340.00" font-size="8.6" text-anchor="middle" fill="#3c3c3c" stroke="#3c3c3c" stroke-width="0.22" textLength="14" lengthAdjust="spacingAndGlyphs">CD5</text>
<text x="254.60" y="282.40" font-size="8.6" text-anchor="middle" fill="#3c3c3c" stroke="#3c3c3c" stroke-width="0.22" textLength="17" lengthAdjust="spacingAndGlyphs" transform="rotate(-90 254.60 282.40)">CD20</text>
<text x="281.20" y="257.40" font-size="7.0" text-anchor="start" fill="#3c3c3c" stroke="#3c3c3c" stroke-width="0.22">30.4</text>
<text x="341.00" y="257.40" font-size="7.0" text-anchor="end" fill="#3c3c3c" stroke="#3c3c3c" stroke-width="0.22">69.6</text>
<text x="281.20" y="313.90" font-size="7.2" text-anchor="start" fill="#3c3c3c" stroke="#3c3c3c" stroke-width="0.22">0</text>
<text x="341.00" y="313.90" font-size="7.2" text-anchor="end" fill="#3c3c3c" stroke="#3c3c3c" stroke-width="0.22">0</text>
<ellipse cx="322.8" cy="379.5" rx="8.5" ry="13.0" fill="#c0c8ec" opacity="0.75" transform="rotate(28 322.8 379.5)" filter="url(#b2)"/>
<ellipse cx="323.0" cy="379.0" rx="5.8" ry="10.5" fill="#7489cc" opacity="0.6" transform="rotate(25 323.0 379.0)" filter="url(#b1)"/>
<ellipse cx="324.5" cy="373.5" rx="1.8" ry="3.2" fill="#8cc63f" opacity="0.95" transform="rotate(10 324.5 373.5)" filter="url(#b1)"/>
<ellipse cx="324.0" cy="382.0" rx="1.8" ry="3.0" fill="#8cc63f" opacity="0.95" transform="rotate(10 324.0 382.0)" filter="url(#b1)"/>
<path d="M325.5 380.7h.9v.9h-.9zM321.0 382.3h.9v.9h-.9zM320.6 383.7h.9v.9h-.9zM321.5 384.7h.9v.9h-.9zM322.7 379.1h.9v.9h-.9zM319.9 381.2h.9v.9h-.9zM325.4 379.1h.9v.9h-.9zM323.7 378.9h.9v.9h-.9zM322.8 380.6h.9v.9h-.9zM318.8 384.8h.9v.9h-.9zM325.7 380.4h.9v.9h-.9zM319.5 384.3h.9v.9h-.9zM327.1 378.3h.9v.9h-.9zM322.5 383.0h.9v.9h-.9zM319.0 381.0h.9v.9h-.9zM322.9 380.6h.9v.9h-.9zM323.9 382.2h.9v.9h-.9zM318.1 381.5h.9v.9h-.9zM324.1 373.0h.9v.9h-.9zM325.0 377.3h.9v.9h-.9zM321.6 379.7h.9v.9h-.9zM318.9 383.0h.9v.9h-.9zM320.7 378.4h.9v.9h-.9zM325.0 376.5h.9v.9h-.9zM321.1 385.1h.9v.9h-.9zM320.7 386.5h.9v.9h-.9zM322.0 383.3h.9v.9h-.9zM325.4 379.9h.9v.9h-.9zM323.1 381.8h.9v.9h-.9zM322.7 379.3h.9v.9h-.9zM325.7 379.6h.9v.9h-.9zM319.0 383.0h.9v.9h-.9zM321.2 380.5h.9v.9h-.9zM323.4 380.8h.9v.9h-.9zM322.7 376.4h.9v.9h-.9zM323.5 378.0h.9v.9h-.9zM320.9 382.9h.9v.9h-.9zM322.0 383.3h.9v.9h-.9zM323.9 381.3h.9v.9h-.9zM325.1 379.8h.9v.9h-.9zM325.9 377.0h.9v.9h-.9zM322.1 381.3h.9v.9h-.9zM324.0 375.7h.9v.9h-.9zM324.1 375.9h.9v.9h-.9zM324.2 382.6h.9v.9h-.9zM322.9 381.5h.9v.9h-.9zM327.1 375.9h.9v.9h-.9zM324.0 376.9h.9v.9h-.9zM322.7 377.4h.9v.9h-.9zM317.8 381.9h.9v.9h-.9zM319.7 385.5h.9v.9h-.9zM322.2 383.1h.9v.9h-.9zM326.8 379.4h.9v.9h-.9zM320.4 384.4h.9v.9h-.9zM321.5 375.6h.9v.9h-.9zM319.0 385.7h.9v.9h-.9zM320.3 380.0h.9v.9h-.9zM323.3 384.7h.9v.9h-.9zM320.6 379.3h.9v.9h-.9zM325.9 379.9h.9v.9h-.9zM322.3 381.5h.9v.9h-.9zM326.6 373.8h.9v.9h-.9zM321.6 378.1h.9v.9h-.9zM325.7 373.9h.9v.9h-.9zM321.8 384.0h.9v.9h-.9zM323.4 380.0h.9v.9h-.9zM322.2 380.8h.9v.9h-.9zM323.9 375.9h.9v.9h-.9zM321.8 386.0h.9v.9h-.9zM317.7 383.0h.9v.9h-.9zM320.6 382.3h.9v.9h-.9zM326.7 380.0h.9v.9h-.9zM323.1 379.9h.9v.9h-.9zM317.8 384.1h.9v.9h-.9zM320.2 386.8h.9v.9h-.9zM323.8 384.4h.9v.9h-.9zM325.3 380.1h.9v.9h-.9zM318.9 381.5h.9v.9h-.9zM319.5 381.5h.9v.9h-.9zM319.4 378.6h.9v.9h-.9zM323.0 381.6h.9v.9h-.9zM318.9 384.6h.9v.9h-.9zM324.6 377.4h.9v.9h-.9zM326.4 374.3h.9v.9h-.9zM323.2 383.0h.9v.9h-.9zM323.3 377.8h.9v.9h-.9zM318.9 385.9h.9v.9h-.9zM324.0 382.8h.9v.9h-.9zM321.3 383.2h.9v.9h-.9zM323.4 385.3h.9v.9h-.9zM319.4 380.6h.9v.9h-.9zM321.5 377.0h.9v.9h-.9zM321.1 381.7h.9v.9h-.9zM321.2 377.2h.9v.9h-.9zM319.7 382.4h.9v.9h-.9zM321.7 375.6h.9v.9h-.9zM323.1 382.0h.9v.9h-.9zM322.5 375.4h.9v.9h-.9zM322.1 375.1h.9v.9h-.9zM318.4 380.8h.9v.9h-.9zM324.6 383.5h.9v.9h-.9zM324.0 384.3h.9v.9h-.9zM320.6 380.1h.9v.9h-.9zM323.5 381.5h.9v.9h-.9zM321.2 382.2h.9v.9h-.9zM321.9 385.3h.9v.9h-.9zM324.6 377.5h.9v.9h-.9zM319.3 384.1h.9v.9h-.9zM325.3 377.1h.9v.9h-.9zM323.5 383.1h.9v.9h-.9zM322.5 376.0h.9v.9h-.9zM320.7 375.8h.9v.9h-.9zM323.7 375.1h.9v.9h-.9zM321.4 381.9h.9v.9h-.9zM321.6 381.9h.9v.9h-.9zM325.2 376.3h.9v.9h-.9zM322.3 376.9h.9v.9h-.9zM320.4 379.5h.9v.9h-.9zM324.3 376.6h.9v.9h-.9zM324.4 378.8h.9v.9h-.9zM323.5 373.8h.9v.9h-.9zM319.8 379.1h.9v.9h-.9zM322.4 379.7h.9v.9h-.9zM323.1 380.9h.9v.9h-.9zM318.5 382.3h.9v.9h-.9zM324.5 378.1h.9v.9h-.9zM323.9 373.7h.9v.9h-.9zM324.2 373.1h.9v.9h-.9zM320.5 377.1h.9v.9h-.9zM323.3 385.5h.9v.9h-.9zM323.8 374.1h.9v.9h-.9zM323.1 385.4h.9v.9h-.9zM325.7 380.4h.9v.9h-.9zM319.5 379.5h.9v.9h-.9zM323.5 379.5h.9v.9h-.9zM320.9 384.3h.9v.9h-.9zM319.3 380.5h.9v.9h-.9zM317.8 382.6h.9v.9h-.9zM321.9 382.3h.9v.9h-.9zM320.3 382.7h.9v.9h-.9zM325.2 378.0h.9v.9h-.9z" fill="#4f72c0" opacity="0.45"/>
<path d="M326.9 384.7h.9v.9h-.9zM318.7 368.1h.9v.9h-.9zM331.6 371.9h.9v.9h-.9zM320.6 387.2h.9v.9h-.9zM317.0 382.9h.9v.9h-.9zM316.9 392.5h.9v.9h-.9zM321.4 386.9h.9v.9h-.9zM328.7 368.9h.9v.9h-.9zM326.3 382.4h.9v.9h-.9zM323.1 373.3h.9v.9h-.9zM330.3 373.1h.9v.9h-.9zM327.9 378.4h.9v.9h-.9zM322.6 390.0h.9v.9h-.9zM317.8 377.3h.9v.9h-.9zM329.5 369.6h.9v.9h-.9zM322.9 369.8h.9v.9h-.9zM314.0 385.5h.9v.9h-.9zM316.5 374.9h.9v.9h-.9zM326.7 373.5h.9v.9h-.9zM317.3 372.6h.9v.9h-.9zM324.9 371.2h.9v.9h-.9zM317.8 386.9h.9v.9h-.9zM316.8 368.1h.9v.9h-.9zM319.5 387.1h.9v.9h-.9zM320.3 387.8h.9v.9h-.9zM315.0 391.2h.9v.9h-.9zM327.4 365.0h.9v.9h-.9zM317.4 380.5h.9v.9h-.9zM320.0 369.8h.9v.9h-.9zM327.9 381.2h.9v.9h-.9zM318.8 387.6h.9v.9h-.9zM331.6 364.7h.9v.9h-.9zM316.2 391.6h.9v.9h-.9zM332.8 368.4h.9v.9h-.9zM322.5 395.8h.9v.9h-.9zM315.2 383.8h.9v.9h-.9zM325.8 370.8h.9v.9h-.9zM320.2 395.7h.9v.9h-.9zM323.5 393.4h.9v.9h-.9zM328.5 385.3h.9v.9h-.9zM328.7 391.4h.9v.9h-.9zM319.5 374.9h.9v.9h-.9zM325.6 387.5h.9v.9h-.9zM327.9 374.4h.9v.9h-.9zM312.2 398.0h.9v.9h-.9zM316.5 394.3h.9v.9h-.9zM336.7 362.6h.9v.9h-.9zM315.8 395.8h.9v.9h-.9zM315.5 385.9h.9v.9h-.9zM318.3 390.8h.9v.9h-.9zM323.7 372.0h.9v.9h-.9zM317.0 385.5h.9v.9h-.9zM317.3 386.2h.9v.9h-.9zM313.8 379.0h.9v.9h-.9zM330.9 371.5h.9v.9h-.9zM331.6 374.5h.9v.9h-.9zM326.3 360.5h.9v.9h-.9zM320.3 375.3h.9v.9h-.9zM326.2 383.4h.9v.9h-.9zM320.1 387.7h.9v.9h-.9zM318.7 388.7h.9v.9h-.9zM333.0 370.8h.9v.9h-.9zM328.0 367.9h.9v.9h-.9zM319.7 397.1h.9v.9h-.9zM315.2 385.2h.9v.9h-.9zM319.0 389.3h.9v.9h-.9zM320.1 396.1h.9v.9h-.9zM317.6 385.4h.9v.9h-.9zM313.5 384.2h.9v.9h-.9zM328.0 375.4h.9v.9h-.9zM316.7 387.0h.9v.9h-.9zM327.0 368.8h.9v.9h-.9zM330.7 378.1h.9v.9h-.9zM313.0 397.4h.9v.9h-.9zM313.6 382.9h.9v.9h-.9zM314.3 390.7h.9v.9h-.9zM320.8 387.5h.9v.9h-.9zM317.2 374.5h.9v.9h-.9zM312.7 384.0h.9v.9h-.9zM315.3 383.2h.9v.9h-.9zM326.6 367.6h.9v.9h-.9zM313.2 388.6h.9v.9h-.9zM325.2 371.2h.9v.9h-.9zM317.9 377.3h.9v.9h-.9zM329.3 373.9h.9v.9h-.9zM322.8 362.3h.9v.9h-.9zM329.1 368.7h.9v.9h-.9zM314.4 380.0h.9v.9h-.9zM328.0 380.3h.9v.9h-.9zM332.9 374.7h.9v.9h-.9zM316.7 383.1h.9v.9h-.9zM313.8 388.5h.9v.9h-.9zM329.1 374.3h.9v.9h-.9zM319.6 393.6h.9v.9h-.9zM326.2 382.5h.9v.9h-.9zM323.7 366.9h.9v.9h-.9zM327.1 369.5h.9v.9h-.9zM325.6 388.4h.9v.9h-.9zM324.3 389.0h.9v.9h-.9zM327.6 377.8h.9v.9h-.9zM315.9 392.0h.9v.9h-.9zM321.9 389.1h.9v.9h-.9zM319.6 375.3h.9v.9h-.9zM325.9 385.9h.9v.9h-.9zM318.1 387.5h.9v.9h-.9zM317.3 379.2h.9v.9h-.9zM324.5 367.7h.9v.9h-.9zM316.6 384.7h.9v.9h-.9zM321.4 392.8h.9v.9h-.9zM327.9 361.1h.9v.9h-.9zM314.1 401.3h.9v.9h-.9zM321.8 373.1h.9v.9h-.9zM326.8 381.2h.9v.9h-.9zM325.5 372.6h.9v.9h-.9zM313.8 383.5h.9v.9h-.9zM317.5 385.7h.9v.9h-.9zM315.2 380.0h.9v.9h-.9zM322.9 372.6h.9v.9h-.9zM319.4 393.5h.9v.9h-.9zM326.7 372.3h.9v.9h-.9zM331.0 373.1h.9v.9h-.9zM329.3 375.7h.9v.9h-.9zM316.7 385.1h.9v.9h-.9zM322.5 388.7h.9v.9h-.9zM326.9 381.4h.9v.9h-.9zM319.4 390.4h.9v.9h-.9zM327.4 378.7h.9v.9h-.9zM324.1 385.2h.9v.9h-.9zM312.6 384.2h.9v.9h-.9zM326.2 372.4h.9v.9h-.9zM327.4 374.4h.9v.9h-.9zM317.7 380.6h.9v.9h-.9zM330.4 373.4h.9v.9h-.9zM321.5 368.6h.9v.9h-.9zM328.2 381.0h.9v.9h-.9zM310.8 392.5h.9v.9h-.9zM319.0 391.0h.9v.9h-.9zM325.9 384.7h.9v.9h-.9zM321.8 387.1h.9v.9h-.9zM316.2 392.7h.9v.9h-.9zM322.3 373.5h.9v.9h-.9zM316.8 382.1h.9v.9h-.9zM325.6 384.8h.9v.9h-.9zM324.3 387.9h.9v.9h-.9zM311.4 387.6h.9v.9h-.9zM326.7 369.6h.9v.9h-.9zM315.5 381.8h.9v.9h-.9zM329.4 388.3h.9v.9h-.9zM322.2 373.8h.9v.9h-.9zM316.1 382.4h.9v.9h-.9zM326.6 383.0h.9v.9h-.9zM308.7 394.9h.9v.9h-.9zM321.1 389.5h.9v.9h-.9zM317.4 380.5h.9v.9h-.9zM323.0 372.1h.9v.9h-.9zM318.7 375.0h.9v.9h-.9zM324.0 372.6h.9v.9h-.9zM330.8 381.5h.9v.9h-.9zM317.0 380.1h.9v.9h-.9z" fill="#8a9ad8" opacity="0.3"/>
<rect x="278.00" y="358.00" width="66.00" height="65.30" fill="none" stroke="#111" stroke-width="1.0"/>
<line x1="303.10" y1="358.00" x2="303.10" y2="423.30" stroke="#333" stroke-width="0.9" />
<line x1="278.00" y1="397.40" x2="344.00" y2="397.40" stroke="#333" stroke-width="0.9" />
<line x1="275.00" y1="364.20" x2="278.00" y2="364.20" stroke="#111" stroke-width="1.0" />
<text x="261.80" y="366.30" font-size="6.4" text-anchor="start" fill="#3c3c3c" stroke="#3c3c3c" stroke-width="0.22" textLength="8.0" lengthAdjust="spacingAndGlyphs">10<tspan font-size="4.9" dy="-2.7">5</tspan></text>
<line x1="275.00" y1="379.90" x2="278.00" y2="379.90" stroke="#111" stroke-width="1.0" />
<text x="261.80" y="382.00" font-size="6.4" text-anchor="start" fill="#3c3c3c" stroke="#3c3c3c" stroke-width="0.22" textLength="8.0" lengthAdjust="spacingAndGlyphs">10<tspan font-size="4.9" dy="-2.7">4</tspan></text>
<line x1="275.00" y1="397.60" x2="278.00" y2="397.60" stroke="#111" stroke-width="1.0" />
<text x="261.80" y="399.70" font-size="6.4" text-anchor="start" fill="#3c3c3c" stroke="#3c3c3c" stroke-width="0.22" textLength="8.0" lengthAdjust="spacingAndGlyphs">10<tspan font-size="4.9" dy="-2.7">3</tspan></text>
<line x1="275.00" y1="408.30" x2="278.00" y2="408.30" stroke="#111" stroke-width="1.0" />
<text x="270.40" y="410.40" font-size="6.4" text-anchor="end" fill="#3c3c3c" stroke="#3c3c3c" stroke-width="0.22">0</text>
<line x1="275.00" y1="419.00" x2="278.00" y2="419.00" stroke="#111" stroke-width="1.0" />
<text x="259.30" y="421.10" font-size="6.4" text-anchor="start" fill="#3c3c3c" stroke="#3c3c3c" stroke-width="0.22" textLength="10.5" lengthAdjust="spacingAndGlyphs">-10<tspan font-size="4.9" dy="-2.7">3</tspan></text>
<line x1="276.60" y1="375.17" x2="278.00" y2="375.17" stroke="#111" stroke-width="0.6" />
<line x1="276.60" y1="372.41" x2="278.00" y2="372.41" stroke="#111" stroke-width="0.6" />
<line x1="276.60" y1="370.45" x2="278.00" y2="370.45" stroke="#111" stroke-width="0.6" />
<line x1="276.60" y1="368.93" x2="278.00" y2="368.93" stroke="#111" stroke-width="0.6" />
<line x1="276.60" y1="367.68" x2="278.00" y2="367.68" stroke="#111" stroke-width="0.6" />
<line x1="276.60" y1="366.63" x2="278.00" y2="366.63" stroke="#111" stroke-width="0.6" />
<line x1="276.60" y1="365.72" x2="278.00" y2="365.72" stroke="#111" stroke-width="0.6" />
<line x1="276.60" y1="364.92" x2="278.00" y2="364.92" stroke="#111" stroke-width="0.6" />
<line x1="276.60" y1="392.27" x2="278.00" y2="392.27" stroke="#111" stroke-width="0.6" />
<line x1="276.60" y1="389.15" x2="278.00" y2="389.15" stroke="#111" stroke-width="0.6" />
<line x1="276.60" y1="386.94" x2="278.00" y2="386.94" stroke="#111" stroke-width="0.6" />
<line x1="276.60" y1="385.23" x2="278.00" y2="385.23" stroke="#111" stroke-width="0.6" />
<line x1="276.60" y1="383.83" x2="278.00" y2="383.83" stroke="#111" stroke-width="0.6" />
<line x1="276.60" y1="382.64" x2="278.00" y2="382.64" stroke="#111" stroke-width="0.6" />
<line x1="276.60" y1="381.62" x2="278.00" y2="381.62" stroke="#111" stroke-width="0.6" />
<line x1="276.60" y1="380.71" x2="278.00" y2="380.71" stroke="#111" stroke-width="0.6" />
<rect x="276.00" y="406.50" width="2.00" height="3.20" fill="#111" />
<line x1="282.20" y1="423.30" x2="282.20" y2="425.70" stroke="#111" stroke-width="0.9" />
<line x1="293.00" y1="423.30" x2="293.00" y2="425.70" stroke="#111" stroke-width="0.9" />
<line x1="303.70" y1="423.30" x2="303.70" y2="425.70" stroke="#111" stroke-width="0.9" />
<line x1="321.40" y1="423.30" x2="321.40" y2="425.70" stroke="#111" stroke-width="0.9" />
<line x1="337.80" y1="423.30" x2="337.80" y2="425.70" stroke="#111" stroke-width="0.9" />
<line x1="309.03" y1="423.30" x2="309.03" y2="424.70" stroke="#111" stroke-width="0.7" />
<line x1="312.15" y1="423.30" x2="312.15" y2="424.70" stroke="#111" stroke-width="0.7" />
<line x1="314.36" y1="423.30" x2="314.36" y2="424.70" stroke="#111" stroke-width="0.7" />
<line x1="316.07" y1="423.30" x2="316.07" y2="424.70" stroke="#111" stroke-width="0.7" />
<line x1="317.47" y1="423.30" x2="317.47" y2="424.70" stroke="#111" stroke-width="0.7" />
<line x1="318.66" y1="423.30" x2="318.66" y2="424.70" stroke="#111" stroke-width="0.7" />
<line x1="319.68" y1="423.30" x2="319.68" y2="424.70" stroke="#111" stroke-width="0.7" />
<line x1="320.59" y1="423.30" x2="320.59" y2="424.70" stroke="#111" stroke-width="0.7" />
<line x1="326.34" y1="423.30" x2="326.34" y2="424.70" stroke="#111" stroke-width="0.7" />
<line x1="329.22" y1="423.30" x2="329.22" y2="424.70" stroke="#111" stroke-width="0.7" />
<line x1="331.27" y1="423.30" x2="331.27" y2="424.70" stroke="#111" stroke-width="0.7" />
<line x1="332.86" y1="423.30" x2="332.86" y2="424.70" stroke="#111" stroke-width="0.7" />
<line x1="334.16" y1="423.30" x2="334.16" y2="424.70" stroke="#111" stroke-width="0.7" />
<line x1="335.26" y1="423.30" x2="335.26" y2="424.70" stroke="#111" stroke-width="0.7" />
<line x1="336.21" y1="423.30" x2="336.21" y2="424.70" stroke="#111" stroke-width="0.7" />
<line x1="337.05" y1="423.30" x2="337.05" y2="424.70" stroke="#111" stroke-width="0.7" />
<rect x="291.50" y="423.30" width="3.00" height="2.00" fill="#111" />
<text x="275.70" y="435.30" font-size="6.4" text-anchor="start" fill="#3c3c3c" stroke="#3c3c3c" stroke-width="0.22" textLength="10.5" lengthAdjust="spacingAndGlyphs">-10<tspan font-size="4.9" dy="-2.7">3</tspan></text>
<text x="293.60" y="435.30" font-size="6.4" text-anchor="middle" fill="#3c3c3c" stroke="#3c3c3c" stroke-width="0.22">0</text>
<text x="299.60" y="435.30" font-size="6.4" text-anchor="start" fill="#3c3c3c" stroke="#3c3c3c" stroke-width="0.22" textLength="8.0" lengthAdjust="spacingAndGlyphs">10<tspan font-size="4.9" dy="-2.7">3</tspan></text>
<text x="317.70" y="435.30" font-size="6.4" text-anchor="start" fill="#3c3c3c" stroke="#3c3c3c" stroke-width="0.22" textLength="8.0" lengthAdjust="spacingAndGlyphs">10<tspan font-size="4.9" dy="-2.7">4</tspan></text>
<text x="333.50" y="435.30" font-size="6.4" text-anchor="start" fill="#3c3c3c" stroke="#3c3c3c" stroke-width="0.22" textLength="8.2" lengthAdjust="spacingAndGlyphs">10<tspan font-size="4.9" dy="-2.7">5</tspan></text>
<text x="311.20" y="448.20" font-size="8.6" text-anchor="middle" fill="#3c3c3c" stroke="#3c3c3c" stroke-width="0.22" textLength="18" lengthAdjust="spacingAndGlyphs">CD43</text>
<text x="254.60" y="390.60" font-size="8.6" text-anchor="middle" fill="#3c3c3c" stroke="#3c3c3c" stroke-width="0.22" textLength="17" lengthAdjust="spacingAndGlyphs" transform="rotate(-90 254.60 390.60)">CD27</text>
<text x="281.20" y="365.60" font-size="7.0" text-anchor="start" fill="#3c3c3c" stroke="#3c3c3c" stroke-width="0.22">0.1</text>
<text x="341.00" y="365.60" font-size="7.0" text-anchor="end" fill="#3c3c3c" stroke="#3c3c3c" stroke-width="0.22">99.8</text>
<text x="281.20" y="422.10" font-size="7.2" text-anchor="start" fill="#3c3c3c" stroke="#3c3c3c" stroke-width="0.22">0</text>
<text x="341.00" y="422.10" font-size="7.2" text-anchor="end" fill="#3c3c3c" stroke="#3c3c3c" stroke-width="0.22">0.1</text>
<ellipse cx="310.2" cy="516.9" rx="6.8" ry="1.2" fill="#7a9a8a" opacity="0.85" transform="rotate(-4 310.2 516.9)" filter="url(#b1)"/>
<ellipse cx="310.0" cy="516.8" rx="5.0" ry="0.8" fill="#5a8a5a" opacity="0.9" transform="rotate(-4 310.0 516.8)" filter="url(#b1)"/>
<ellipse cx="313.5" cy="494.0" rx="4.5" ry="3.0" fill="#c6cdec" opacity="0.45" transform="rotate(0 313.5 494.0)" filter="url(#b2)"/>
<path d="M302.8 518.7h.9v.9h-.9zM313.0 517.5h.9v.9h-.9zM313.9 517.0h.9v.9h-.9zM315.2 517.0h.9v.9h-.9zM314.9 516.0h.9v.9h-.9zM314.8 517.3h.9v.9h-.9zM309.4 517.6h.9v.9h-.9zM313.3 517.6h.9v.9h-.9zM317.1 517.8h.9v.9h-.9zM317.9 517.4h.9v.9h-.9zM310.4 516.3h.9v.9h-.9zM310.9 516.3h.9v.9h-.9zM308.8 516.4h.9v.9h-.9zM314.6 517.4h.9v.9h-.9zM309.6 516.3h.9v.9h-.9zM307.9 517.4h.9v.9h-.9zM308.8 517.9h.9v.9h-.9zM310.3 517.7h.9v.9h-.9zM307.6 516.2h.9v.9h-.9zM313.8 516.8h.9v.9h-.9zM306.9 516.6h.9v.9h-.9zM313.4 516.5h.9v.9h-.9zM315.2 517.2h.9v.9h-.9zM311.8 517.8h.9v.9h-.9zM307.5 516.2h.9v.9h-.9zM314.6 517.6h.9v.9h-.9zM307.6 516.2h.9v.9h-.9zM314.7 516.3h.9v.9h-.9zM308.6 515.4h.9v.9h-.9zM313.9 517.8h.9v.9h-.9zM304.5 516.2h.9v.9h-.9zM308.9 518.1h.9v.9h-.9zM317.8 517.2h.9v.9h-.9zM315.9 517.6h.9v.9h-.9zM306.8 516.8h.9v.9h-.9zM307.6 517.4h.9v.9h-.9zM308.8 518.1h.9v.9h-.9zM315.1 516.6h.9v.9h-.9zM314.9 518.3h.9v.9h-.9zM316.0 516.3h.9v.9h-.9zM308.8 518.4h.9v.9h-.9zM316.1 498.3h.9v.9h-.9zM312.3 496.7h.9v.9h-.9zM319.0 496.7h.9v.9h-.9zM311.7 491.8h.9v.9h-.9zM308.8 494.3h.9v.9h-.9zM309.3 495.3h.9v.9h-.9zM316.8 497.4h.9v.9h-.9zM308.2 493.6h.9v.9h-.9z" fill="#8a9ad8" opacity="0.3"/>
<path d="M308.3 517.1h.9v.9h-.9zM313.3 516.7h.9v.9h-.9zM309.7 517.5h.9v.9h-.9zM310.9 517.2h.9v.9h-.9zM309.6 516.8h.9v.9h-.9zM310.8 517.0h.9v.9h-.9zM313.3 516.7h.9v.9h-.9zM309.9 516.9h.9v.9h-.9zM310.4 517.6h.9v.9h-.9zM311.3 517.5h.9v.9h-.9zM312.6 517.2h.9v.9h-.9zM310.6 517.4h.9v.9h-.9zM312.0 517.2h.9v.9h-.9zM308.2 517.0h.9v.9h-.9zM308.8 517.5h.9v.9h-.9zM310.5 516.4h.9v.9h-.9zM310.1 516.5h.9v.9h-.9zM310.9 517.4h.9v.9h-.9zM307.6 517.1h.9v.9h-.9zM307.3 517.0h.9v.9h-.9zM311.4 517.6h.9v.9h-.9zM312.2 516.8h.9v.9h-.9zM311.7 516.8h.9v.9h-.9zM313.2 516.6h.9v.9h-.9zM311.8 517.3h.9v.9h-.9zM312.0 516.4h.9v.9h-.9zM309.2 517.6h.9v.9h-.9zM312.6 516.8h.9v.9h-.9zM309.3 517.5h.9v.9h-.9zM312.9 516.9h.9v.9h-.9zM310.6 517.4h.9v.9h-.9zM312.5 516.8h.9v.9h-.9zM312.7 516.7h.9v.9h-.9zM309.8 517.4h.9v.9h-.9zM311.0 516.8h.9v.9h-.9zM310.5 517.4h.9v.9h-.9zM309.1 516.9h.9v.9h-.9zM309.6 517.1h.9v.9h-.9zM312.4 516.7h.9v.9h-.9zM311.8 495.1h.9v.9h-.9zM314.0 495.0h.9v.9h-.9zM313.4 493.8h.9v.9h-.9zM315.9 492.7h.9v.9h-.9zM315.3 495.6h.9v.9h-.9zM316.0 495.1h.9v.9h-.9zM311.0 493.5h.9v.9h-.9zM312.7 495.4h.9v.9h-.9zM312.5 494.1h.9v.9h-.9zM311.1 494.3h.9v.9h-.9zM312.0 495.3h.9v.9h-.9zM313.7 494.2h.9v.9h-.9z" fill="#4f72c0" opacity="0.45"/>
<rect x="278.00" y="467.60" width="66.00" height="65.30" fill="none" stroke="#111" stroke-width="1.0"/>
<line x1="303.10" y1="467.60" x2="303.10" y2="532.90" stroke="#333" stroke-width="0.9" />
<line x1="278.00" y1="507.00" x2="344.00" y2="507.00" stroke="#333" stroke-width="0.9" />
<line x1="275.00" y1="473.80" x2="278.00" y2="473.80" stroke="#111" stroke-width="1.0" />
<text x="261.80" y="475.90" font-size="6.4" text-anchor="start" fill="#3c3c3c" stroke="#3c3c3c" stroke-width="0.22" textLength="8.0" lengthAdjust="spacingAndGlyphs">10<tspan font-size="4.9" dy="-2.7">5</tspan></text>
<line x1="275.00" y1="489.50" x2="278.00" y2="489.50" stroke="#111" stroke-width="1.0" />
<text x="261.80" y="491.60" font-size="6.4" text-anchor="start" fill="#3c3c3c" stroke="#3c3c3c" stroke-width="0.22" textLength="8.0" lengthAdjust="spacingAndGlyphs">10<tspan font-size="4.9" dy="-2.7">4</tspan></text>
<line x1="275.00" y1="507.20" x2="278.00" y2="507.20" stroke="#111" stroke-width="1.0" />
<text x="261.80" y="509.30" font-size="6.4" text-anchor="start" fill="#3c3c3c" stroke="#3c3c3c" stroke-width="0.22" textLength="8.0" lengthAdjust="spacingAndGlyphs">10<tspan font-size="4.9" dy="-2.7">3</tspan></text>
<line x1="275.00" y1="517.90" x2="278.00" y2="517.90" stroke="#111" stroke-width="1.0" />
<text x="270.40" y="520.00" font-size="6.4" text-anchor="end" fill="#3c3c3c" stroke="#3c3c3c" stroke-width="0.22">0</text>
<line x1="275.00" y1="528.60" x2="278.00" y2="528.60" stroke="#111" stroke-width="1.0" />
<text x="259.30" y="530.70" font-size="6.4" text-anchor="start" fill="#3c3c3c" stroke="#3c3c3c" stroke-width="0.22" textLength="10.5" lengthAdjust="spacingAndGlyphs">-10<tspan font-size="4.9" dy="-2.7">3</tspan></text>
<line x1="276.60" y1="484.77" x2="278.00" y2="484.77" stroke="#111" stroke-width="0.6" />
<line x1="276.60" y1="482.01" x2="278.00" y2="482.01" stroke="#111" stroke-width="0.6" />
<line x1="276.60" y1="480.05" x2="278.00" y2="480.05" stroke="#111" stroke-width="0.6" />
<line x1="276.60" y1="478.53" x2="278.00" y2="478.53" stroke="#111" stroke-width="0.6" />
<line x1="276.60" y1="477.28" x2="278.00" y2="477.28" stroke="#111" stroke-width="0.6" />
<line x1="276.60" y1="476.23" x2="278.00" y2="476.23" stroke="#111" stroke-width="0.6" />
<line x1="276.60" y1="475.32" x2="278.00" y2="475.32" stroke="#111" stroke-width="0.6" />
<line x1="276.60" y1="474.52" x2="278.00" y2="474.52" stroke="#111" stroke-width="0.6" />
<line x1="276.60" y1="501.87" x2="278.00" y2="501.87" stroke="#111" stroke-width="0.6" />
<line x1="276.60" y1="498.75" x2="278.00" y2="498.75" stroke="#111" stroke-width="0.6" />
<line x1="276.60" y1="496.54" x2="278.00" y2="496.54" stroke="#111" stroke-width="0.6" />
<line x1="276.60" y1="494.83" x2="278.00" y2="494.83" stroke="#111" stroke-width="0.6" />
<line x1="276.60" y1="493.43" x2="278.00" y2="493.43" stroke="#111" stroke-width="0.6" />
<line x1="276.60" y1="492.24" x2="278.00" y2="492.24" stroke="#111" stroke-width="0.6" />
<line x1="276.60" y1="491.22" x2="278.00" y2="491.22" stroke="#111" stroke-width="0.6" />
<line x1="276.60" y1="490.31" x2="278.00" y2="490.31" stroke="#111" stroke-width="0.6" />
<rect x="276.00" y="516.10" width="2.00" height="3.20" fill="#111" />
<line x1="282.20" y1="532.90" x2="282.20" y2="535.30" stroke="#111" stroke-width="0.9" />
<line x1="293.00" y1="532.90" x2="293.00" y2="535.30" stroke="#111" stroke-width="0.9" />
<line x1="303.70" y1="532.90" x2="303.70" y2="535.30" stroke="#111" stroke-width="0.9" />
<line x1="321.40" y1="532.90" x2="321.40" y2="535.30" stroke="#111" stroke-width="0.9" />
<line x1="337.80" y1="532.90" x2="337.80" y2="535.30" stroke="#111" stroke-width="0.9" />
<line x1="309.03" y1="532.90" x2="309.03" y2="534.30" stroke="#111" stroke-width="0.7" />
<line x1="312.15" y1="532.90" x2="312.15" y2="534.30" stroke="#111" stroke-width="0.7" />
<line x1="314.36" y1="532.90" x2="314.36" y2="534.30" stroke="#111" stroke-width="0.7" />
<line x1="316.07" y1="532.90" x2="316.07" y2="534.30" stroke="#111" stroke-width="0.7" />
<line x1="317.47" y1="532.90" x2="317.47" y2="534.30" stroke="#111" stroke-width="0.7" />
<line x1="318.66" y1="532.90" x2="318.66" y2="534.30" stroke="#111" stroke-width="0.7" />
<line x1="319.68" y1="532.90" x2="319.68" y2="534.30" stroke="#111" stroke-width="0.7" />
<line x1="320.59" y1="532.90" x2="320.59" y2="534.30" stroke="#111" stroke-width="0.7" />
<line x1="326.34" y1="532.90" x2="326.34" y2="534.30" stroke="#111" stroke-width="0.7" />
<line x1="329.22" y1="532.90" x2="329.22" y2="534.30" stroke="#111" stroke-width="0.7" />
<line x1="331.27" y1="532.90" x2="331.27" y2="534.30" stroke="#111" stroke-width="0.7" />
<line x1="332.86" y1="532.90" x2="332.86" y2="534.30" stroke="#111" stroke-width="0.7" />
<line x1="334.16" y1="532.90" x2="334.16" y2="534.30" stroke="#111" stroke-width="0.7" />
<line x1="335.26" y1="532.90" x2="335.26" y2="534.30" stroke="#111" stroke-width="0.7" />
<line x1="336.21" y1="532.90" x2="336.21" y2="534.30" stroke="#111" stroke-width="0.7" />
<line x1="337.05" y1="532.90" x2="337.05" y2="534.30" stroke="#111" stroke-width="0.7" />
<rect x="291.50" y="532.90" width="3.00" height="2.00" fill="#111" />
<text x="275.70" y="544.90" font-size="6.4" text-anchor="start" fill="#3c3c3c" stroke="#3c3c3c" stroke-width="0.22" textLength="10.5" lengthAdjust="spacingAndGlyphs">-10<tspan font-size="4.9" dy="-2.7">3</tspan></text>
<text x="293.60" y="544.90" font-size="6.4" text-anchor="middle" fill="#3c3c3c" stroke="#3c3c3c" stroke-width="0.22">0</text>
<text x="299.60" y="544.90" font-size="6.4" text-anchor="start" fill="#3c3c3c" stroke="#3c3c3c" stroke-width="0.22" textLength="8.0" lengthAdjust="spacingAndGlyphs">10<tspan font-size="4.9" dy="-2.7">3</tspan></text>
<text x="317.70" y="544.90" font-size="6.4" text-anchor="start" fill="#3c3c3c" stroke="#3c3c3c" stroke-width="0.22" textLength="8.0" lengthAdjust="spacingAndGlyphs">10<tspan font-size="4.9" dy="-2.7">4</tspan></text>
<text x="333.50" y="544.90" font-size="6.4" text-anchor="start" fill="#3c3c3c" stroke="#3c3c3c" stroke-width="0.22" textLength="8.2" lengthAdjust="spacingAndGlyphs">10<tspan font-size="4.9" dy="-2.7">5</tspan></text>
<text x="311.20" y="557.80" font-size="8.6" text-anchor="middle" fill="#3c3c3c" stroke="#3c3c3c" stroke-width="0.22" textLength="13" lengthAdjust="spacingAndGlyphs">IgG</text>
<text x="254.60" y="500.20" font-size="8.6" text-anchor="middle" fill="#3c3c3c" stroke="#3c3c3c" stroke-width="0.22" textLength="13" lengthAdjust="spacingAndGlyphs" transform="rotate(-90 254.60 500.20)">IgM</text>
<text x="281.20" y="475.20" font-size="7.0" text-anchor="start" fill="#3c3c3c" stroke="#3c3c3c" stroke-width="0.22">0</text>
<text x="341.00" y="475.20" font-size="7.0" text-anchor="end" fill="#3c3c3c" stroke="#3c3c3c" stroke-width="0.22">4.5</text>
<text x="281.20" y="531.70" font-size="7.2" text-anchor="start" fill="#3c3c3c" stroke="#3c3c3c" stroke-width="0.22">0.7</text>
<text x="341.00" y="531.70" font-size="7.2" text-anchor="end" fill="#3c3c3c" stroke="#3c3c3c" stroke-width="0.22">94.8</text>
<text x="7.20" y="17.00" font-size="12" text-anchor="start" fill="#000" font-weight="bold">A</text>
<text x="360.40" y="17.30" font-size="12" text-anchor="start" fill="#000" font-weight="bold">B</text>
<text x="360.40" y="158.20" font-size="12" text-anchor="start" fill="#000" font-weight="bold">C</text>
<text x="7.20" y="243.00" font-size="12" text-anchor="start" fill="#000" font-weight="bold">D</text>
<text x="360.40" y="297.00" font-size="12" text-anchor="start" fill="#000" font-weight="bold">E</text>
<text x="360.40" y="447.60" font-size="12" text-anchor="start" fill="#000" font-weight="bold">F</text>
<rect x="0.5" y="0.5" width="519" height="585" fill="none" stroke="#555" stroke-width="1"/>
</svg></body></html>
